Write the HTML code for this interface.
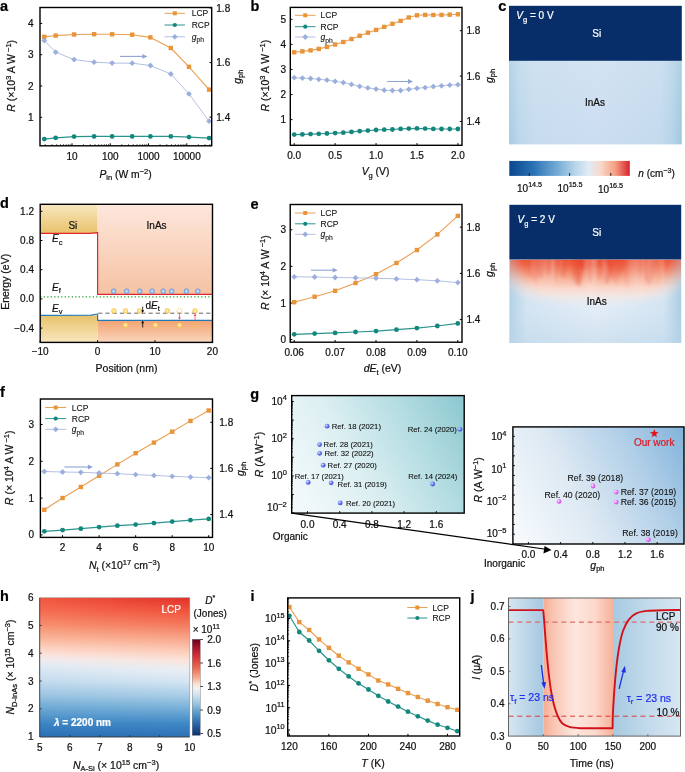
<!DOCTYPE html>
<html><head><meta charset="utf-8"><style>
html,body{margin:0;padding:0;background:#fff;}
svg{display:block;font-family:"Liberation Sans", sans-serif;will-change:transform;}
</style></head><body>
<svg width="685" height="772" viewBox="0 0 685 772">
<defs>
<linearGradient id="orgBg" gradientUnits="userSpaceOnUse" x1="292" y1="490" x2="464" y2="396">
 <stop offset="0" stop-color="#f3f9fa"/><stop offset="0.35" stop-color="#dcefF2"/><stop offset="0.7" stop-color="#b2dce1"/><stop offset="1" stop-color="#8cc7cf"/>
</linearGradient>
<linearGradient id="inoBg" gradientUnits="userSpaceOnUse" x1="513" y1="520" x2="684" y2="427">
 <stop offset="0" stop-color="#f5f9fc"/><stop offset="0.35" stop-color="#dde9f3"/><stop offset="0.7" stop-color="#b1cfe8"/><stop offset="1" stop-color="#82b3db"/>
</linearGradient>
<radialGradient id="bBall" cx="0.35" cy="0.35" r="0.7"><stop offset="0" stop-color="#dfe4ff"/><stop offset="0.45" stop-color="#7685f2"/><stop offset="1" stop-color="#3446d8"/></radialGradient>
<radialGradient id="mBall" cx="0.35" cy="0.35" r="0.7"><stop offset="0" stop-color="#fbe0ff"/><stop offset="0.45" stop-color="#e88af5"/><stop offset="1" stop-color="#c640e0"/></radialGradient>

<linearGradient id="hmapL" x1="0" y1="0" x2="0" y2="1">
 <stop offset="0" stop-color="#f2563e"/><stop offset="0.1" stop-color="#f56e54"/><stop offset="0.197" stop-color="#f7906f"/>
 <stop offset="0.295" stop-color="#fab79c"/><stop offset="0.36" stop-color="#fcd2c1"/><stop offset="0.399" stop-color="#fde0d6"/>
 <stop offset="0.445" stop-color="#f1ecf0"/><stop offset="0.49" stop-color="#e1ebf5"/><stop offset="0.6" stop-color="#c3dbee"/>
 <stop offset="0.7" stop-color="#9cc5e3"/><stop offset="0.8" stop-color="#6aa6d3"/><stop offset="0.905" stop-color="#3d85c4"/><stop offset="1" stop-color="#2a6fb5"/>
</linearGradient>
<linearGradient id="hmapR" x1="0" y1="0" x2="0" y2="1">
 <stop offset="0" stop-color="#e2302a"/><stop offset="0.1" stop-color="#f0553d"/><stop offset="0.197" stop-color="#f47a5e"/>
 <stop offset="0.295" stop-color="#f8a78b"/><stop offset="0.386" stop-color="#fcccb9"/><stop offset="0.451" stop-color="#fbe4da"/>
 <stop offset="0.516" stop-color="#eaeef4"/><stop offset="0.6" stop-color="#d5e5f2"/><stop offset="0.7" stop-color="#a9cde6"/>
 <stop offset="0.8" stop-color="#74aed7"/><stop offset="0.905" stop-color="#3f87c5"/><stop offset="1" stop-color="#2d71b5"/>
</linearGradient>
<linearGradient id="hmapMG" x1="0" y1="0" x2="1" y2="0"><stop offset="0" stop-color="#fff" stop-opacity="0"/><stop offset="1" stop-color="#fff" stop-opacity="1"/></linearGradient>
<mask id="hmapM" maskUnits="userSpaceOnUse" x="39" y="597" width="152" height="141"><rect x="39.7" y="597.7" width="150" height="139.3" fill="url(#hmapMG)"/></mask>
<linearGradient id="cbar_h" x1="0" y1="0" x2="0" y2="1">
 <stop offset="0" stop-color="#67001f"/><stop offset="0.08" stop-color="#a5132a"/><stop offset="0.18" stop-color="#d6303a"/>
 <stop offset="0.3" stop-color="#ec6a50"/><stop offset="0.4" stop-color="#f7ad90"/><stop offset="0.47" stop-color="#fbe3d8"/>
 <stop offset="0.51" stop-color="#f2f2f4"/><stop offset="0.57" stop-color="#d4e6f1"/><stop offset="0.67" stop-color="#98c6e0"/>
 <stop offset="0.77" stop-color="#5499cb"/><stop offset="0.88" stop-color="#2a67ab"/><stop offset="1" stop-color="#0b3272"/>
</linearGradient>

<linearGradient id="jB1" x1="0" y1="0" x2="1" y2="0"><stop offset="0" stop-color="#d6e6f2"/><stop offset="1" stop-color="#a6c8e0"/></linearGradient>
<linearGradient id="jS" x1="0" y1="0" x2="1" y2="0"><stop offset="0" stop-color="#f6ad94"/><stop offset="0.15" stop-color="#f9c6b4"/><stop offset="0.45" stop-color="#fde6de"/><stop offset="0.75" stop-color="#fcd8cb"/><stop offset="1" stop-color="#f6b199"/></linearGradient>
<linearGradient id="jB2" x1="0" y1="0" x2="1" y2="0"><stop offset="0" stop-color="#a7c9e0"/><stop offset="0.5" stop-color="#c2daeb"/><stop offset="1" stop-color="#d7e6f2"/></linearGradient>

<linearGradient id="inas0" x1="0" y1="0" x2="1" y2="0">
 <stop offset="0" stop-color="#a8cce3"/><stop offset="0.06" stop-color="#bcd7eb"/><stop offset="0.15" stop-color="#c6dcee"/>
 <stop offset="0.5" stop-color="#cbdef0"/><stop offset="0.88" stop-color="#c3daed"/><stop offset="0.95" stop-color="#b3d3e7"/><stop offset="1" stop-color="#9fc8e0"/>
</linearGradient>
<linearGradient id="inas0v" x1="0" y1="0" x2="0" y2="1">
 <stop offset="0" stop-color="#ffffff" stop-opacity="0.15"/><stop offset="1" stop-color="#ffffff" stop-opacity="0"/>
</linearGradient>
<linearGradient id="inas2" x1="0" y1="0" x2="1" y2="0">
 <stop offset="0" stop-color="#b3d1e7"/><stop offset="0.1" stop-color="#d3e4f2"/>
 <stop offset="0.5" stop-color="#e3edf6"/><stop offset="0.9" stop-color="#d3e4f2"/><stop offset="1" stop-color="#aacde3"/>
</linearGradient>
<linearGradient id="inas2v" x1="0" y1="0" x2="0" y2="1">
 <stop offset="0" stop-color="#c0d8ea" stop-opacity="0"/><stop offset="0.6" stop-color="#c0d8ea" stop-opacity="0"/><stop offset="1" stop-color="#bcd6ea" stop-opacity="0.5"/>
</linearGradient>
<linearGradient id="redband" x1="0" y1="0" x2="0" y2="1">
 <stop offset="0" stop-color="#ec5539"/><stop offset="0.12" stop-color="#ef6749"/><stop offset="0.26" stop-color="#f38c6f"/>
 <stop offset="0.4" stop-color="#f7b29a"/><stop offset="0.55" stop-color="#fad2c3"/><stop offset="0.72" stop-color="#f8e4de" stop-opacity="0.8"/><stop offset="1" stop-color="#eef0f5" stop-opacity="0"/>
</linearGradient>
<radialGradient id="bandMaskG" gradientUnits="userSpaceOnUse" cx="595.3" cy="256" r="1" gradientTransform="translate(595.3 256) scale(102 66) translate(-595.3 -256)">
 <stop offset="0" stop-color="#fff"/><stop offset="0.72" stop-color="#fff"/><stop offset="0.86" stop-color="#fff" stop-opacity="0.55"/><stop offset="1" stop-color="#fff" stop-opacity="0"/>
</radialGradient>
<mask id="bandMask" maskUnits="userSpaceOnUse" x="509" y="259" width="173" height="60"><rect x="509.4" y="259.4" width="171.8" height="58" fill="url(#bandMaskG)"/></mask>
<clipPath id="clip2"><rect x="509.4" y="259.4" width="171.8" height="83.6"/></clipPath>
<linearGradient id="cbar_c" x1="0" y1="0" x2="1" y2="0">
 <stop offset="0" stop-color="#0b468d"/><stop offset="0.2" stop-color="#2a72b4"/><stop offset="0.4" stop-color="#75acd5"/>
 <stop offset="0.55" stop-color="#b9d6ea"/><stop offset="0.66" stop-color="#e1ecf5"/><stop offset="0.76" stop-color="#f8d8c8"/>
 <stop offset="0.88" stop-color="#f49e82"/><stop offset="1" stop-color="#d7232a"/>
</linearGradient>
<filter id="blur15" x="-20%" y="-20%" width="140%" height="140%"><feGaussianBlur stdDeviation="1.6"/></filter>
<linearGradient id="siTop" x1="0" y1="0" x2="0" y2="1"><stop offset="0" stop-color="#f8e7bf"/><stop offset="1" stop-color="#e8c26a"/></linearGradient>
<linearGradient id="siBot" x1="0" y1="0" x2="0" y2="1"><stop offset="0" stop-color="#e8c26a"/><stop offset="1" stop-color="#f8e7bf"/></linearGradient>
<linearGradient id="inTop" x1="0" y1="0" x2="0" y2="1"><stop offset="0" stop-color="#fde7dc"/><stop offset="1" stop-color="#f6c2a3"/></linearGradient>
<linearGradient id="inBot" x1="0" y1="0" x2="0" y2="1"><stop offset="0" stop-color="#f2a36f"/><stop offset="1" stop-color="#fad6bf"/></linearGradient>
<radialGradient id="eBall"><stop offset="0" stop-color="#d8e6f6"/><stop offset="0.5" stop-color="#a9c6ea"/><stop offset="1" stop-color="#5f93d6"/></radialGradient>
<radialGradient id="hBall"><stop offset="0" stop-color="#fff6d8"/><stop offset="0.5" stop-color="#fde08a"/><stop offset="1" stop-color="#f8c440"/></radialGradient>
</defs>
<text x="250.20" y="398.60" font-size="14.5" text-anchor="start" fill="#000" font-weight="bold" font-style="normal"  stroke="#000" stroke-width="0.22">g</text>
<rect x="291.70" y="395.60" width="172.50" height="117.50" fill="url(#orgBg)" stroke="none" stroke-width="1" />
<line x1="291.70" y1="513.10" x2="293.90" y2="513.10" stroke="#000" stroke-width="0.9" />
<line x1="291.70" y1="507.50" x2="293.00" y2="507.50" stroke="#000" stroke-width="0.6" />
<line x1="291.70" y1="504.23" x2="293.00" y2="504.23" stroke="#000" stroke-width="0.6" />
<line x1="291.70" y1="501.90" x2="293.00" y2="501.90" stroke="#000" stroke-width="0.6" />
<line x1="291.70" y1="500.10" x2="293.00" y2="500.10" stroke="#000" stroke-width="0.6" />
<line x1="291.70" y1="498.63" x2="293.00" y2="498.63" stroke="#000" stroke-width="0.6" />
<line x1="291.70" y1="497.38" x2="293.00" y2="497.38" stroke="#000" stroke-width="0.6" />
<line x1="291.70" y1="496.30" x2="293.00" y2="496.30" stroke="#000" stroke-width="0.6" />
<line x1="291.70" y1="495.35" x2="293.00" y2="495.35" stroke="#000" stroke-width="0.6" />
<line x1="291.70" y1="494.50" x2="293.90" y2="494.50" stroke="#000" stroke-width="0.9" />
<line x1="291.70" y1="488.90" x2="293.00" y2="488.90" stroke="#000" stroke-width="0.6" />
<line x1="291.70" y1="485.63" x2="293.00" y2="485.63" stroke="#000" stroke-width="0.6" />
<line x1="291.70" y1="483.30" x2="293.00" y2="483.30" stroke="#000" stroke-width="0.6" />
<line x1="291.70" y1="481.50" x2="293.00" y2="481.50" stroke="#000" stroke-width="0.6" />
<line x1="291.70" y1="480.03" x2="293.00" y2="480.03" stroke="#000" stroke-width="0.6" />
<line x1="291.70" y1="478.78" x2="293.00" y2="478.78" stroke="#000" stroke-width="0.6" />
<line x1="291.70" y1="477.70" x2="293.00" y2="477.70" stroke="#000" stroke-width="0.6" />
<line x1="291.70" y1="476.75" x2="293.00" y2="476.75" stroke="#000" stroke-width="0.6" />
<line x1="291.70" y1="475.90" x2="293.90" y2="475.90" stroke="#000" stroke-width="0.9" />
<line x1="291.70" y1="470.30" x2="293.00" y2="470.30" stroke="#000" stroke-width="0.6" />
<line x1="291.70" y1="467.03" x2="293.00" y2="467.03" stroke="#000" stroke-width="0.6" />
<line x1="291.70" y1="464.70" x2="293.00" y2="464.70" stroke="#000" stroke-width="0.6" />
<line x1="291.70" y1="462.90" x2="293.00" y2="462.90" stroke="#000" stroke-width="0.6" />
<line x1="291.70" y1="461.43" x2="293.00" y2="461.43" stroke="#000" stroke-width="0.6" />
<line x1="291.70" y1="460.18" x2="293.00" y2="460.18" stroke="#000" stroke-width="0.6" />
<line x1="291.70" y1="459.10" x2="293.00" y2="459.10" stroke="#000" stroke-width="0.6" />
<line x1="291.70" y1="458.15" x2="293.00" y2="458.15" stroke="#000" stroke-width="0.6" />
<line x1="291.70" y1="457.30" x2="293.90" y2="457.30" stroke="#000" stroke-width="0.9" />
<line x1="291.70" y1="451.70" x2="293.00" y2="451.70" stroke="#000" stroke-width="0.6" />
<line x1="291.70" y1="448.43" x2="293.00" y2="448.43" stroke="#000" stroke-width="0.6" />
<line x1="291.70" y1="446.10" x2="293.00" y2="446.10" stroke="#000" stroke-width="0.6" />
<line x1="291.70" y1="444.30" x2="293.00" y2="444.30" stroke="#000" stroke-width="0.6" />
<line x1="291.70" y1="442.83" x2="293.00" y2="442.83" stroke="#000" stroke-width="0.6" />
<line x1="291.70" y1="441.58" x2="293.00" y2="441.58" stroke="#000" stroke-width="0.6" />
<line x1="291.70" y1="440.50" x2="293.00" y2="440.50" stroke="#000" stroke-width="0.6" />
<line x1="291.70" y1="439.55" x2="293.00" y2="439.55" stroke="#000" stroke-width="0.6" />
<line x1="291.70" y1="438.70" x2="293.90" y2="438.70" stroke="#000" stroke-width="0.9" />
<line x1="291.70" y1="433.10" x2="293.00" y2="433.10" stroke="#000" stroke-width="0.6" />
<line x1="291.70" y1="429.83" x2="293.00" y2="429.83" stroke="#000" stroke-width="0.6" />
<line x1="291.70" y1="427.50" x2="293.00" y2="427.50" stroke="#000" stroke-width="0.6" />
<line x1="291.70" y1="425.70" x2="293.00" y2="425.70" stroke="#000" stroke-width="0.6" />
<line x1="291.70" y1="424.23" x2="293.00" y2="424.23" stroke="#000" stroke-width="0.6" />
<line x1="291.70" y1="422.98" x2="293.00" y2="422.98" stroke="#000" stroke-width="0.6" />
<line x1="291.70" y1="421.90" x2="293.00" y2="421.90" stroke="#000" stroke-width="0.6" />
<line x1="291.70" y1="420.95" x2="293.00" y2="420.95" stroke="#000" stroke-width="0.6" />
<line x1="291.70" y1="420.10" x2="293.90" y2="420.10" stroke="#000" stroke-width="0.9" />
<line x1="291.70" y1="414.50" x2="293.00" y2="414.50" stroke="#000" stroke-width="0.6" />
<line x1="291.70" y1="411.23" x2="293.00" y2="411.23" stroke="#000" stroke-width="0.6" />
<line x1="291.70" y1="408.90" x2="293.00" y2="408.90" stroke="#000" stroke-width="0.6" />
<line x1="291.70" y1="407.10" x2="293.00" y2="407.10" stroke="#000" stroke-width="0.6" />
<line x1="291.70" y1="405.63" x2="293.00" y2="405.63" stroke="#000" stroke-width="0.6" />
<line x1="291.70" y1="404.38" x2="293.00" y2="404.38" stroke="#000" stroke-width="0.6" />
<line x1="291.70" y1="403.30" x2="293.00" y2="403.30" stroke="#000" stroke-width="0.6" />
<line x1="291.70" y1="402.35" x2="293.00" y2="402.35" stroke="#000" stroke-width="0.6" />
<line x1="291.70" y1="401.50" x2="293.90" y2="401.50" stroke="#000" stroke-width="0.9" />
<line x1="307.50" y1="513.10" x2="307.50" y2="511.10" stroke="#000" stroke-width="0.9" />
<text x="307.50" y="528.18" font-size="10" text-anchor="middle" fill="#111" font-weight="normal" font-style="normal"  stroke="#111" stroke-width="0.22">0.0</text>
<line x1="339.70" y1="513.10" x2="339.70" y2="511.10" stroke="#000" stroke-width="0.9" />
<text x="339.70" y="528.18" font-size="10" text-anchor="middle" fill="#111" font-weight="normal" font-style="normal"  stroke="#111" stroke-width="0.22">0.4</text>
<line x1="371.90" y1="513.10" x2="371.90" y2="511.10" stroke="#000" stroke-width="0.9" />
<text x="371.90" y="528.18" font-size="10" text-anchor="middle" fill="#111" font-weight="normal" font-style="normal"  stroke="#111" stroke-width="0.22">0.8</text>
<line x1="404.10" y1="513.10" x2="404.10" y2="511.10" stroke="#000" stroke-width="0.9" />
<text x="404.10" y="528.18" font-size="10" text-anchor="middle" fill="#111" font-weight="normal" font-style="normal"  stroke="#111" stroke-width="0.22">1.2</text>
<line x1="436.30" y1="513.10" x2="436.30" y2="511.10" stroke="#000" stroke-width="0.9" />
<text x="436.30" y="528.18" font-size="10" text-anchor="middle" fill="#111" font-weight="normal" font-style="normal"  stroke="#111" stroke-width="0.22">1.6</text>
<text x="286.80" y="404.90" font-size="10" text-anchor="end" fill="#111" font-weight="normal" font-style="normal"  stroke="#111" stroke-width="0.22">10<tspan font-size="7.5" dy="-4.6">4</tspan></text>
<text x="286.80" y="442.10" font-size="10" text-anchor="end" fill="#111" font-weight="normal" font-style="normal"  stroke="#111" stroke-width="0.22">10<tspan font-size="7.5" dy="-4.6">2</tspan></text>
<text x="286.80" y="479.30" font-size="10" text-anchor="end" fill="#111" font-weight="normal" font-style="normal"  stroke="#111" stroke-width="0.22">10<tspan font-size="7.5" dy="-4.6">0</tspan></text>
<text x="286.80" y="511.40" font-size="10" text-anchor="end" fill="#111" font-weight="normal" font-style="normal"  stroke="#111" stroke-width="0.22">10<tspan font-size="7.5" dy="-4.6">−2</tspan></text>
<circle cx="327.10" cy="426.20" r="2.4" fill="url(#bBall)" />
<text x="331.80" y="428.96" font-size="7.7" text-anchor="start" fill="#111" font-weight="normal" font-style="normal"  stroke="#111" stroke-width="0.1">Ref. 18 (2021)</text>
<circle cx="319.60" cy="444.60" r="2.4" fill="url(#bBall)" />
<text x="323.60" y="447.36" font-size="7.7" text-anchor="start" fill="#111" font-weight="normal" font-style="normal"  stroke="#111" stroke-width="0.1">Ref. 28 (2021)</text>
<circle cx="319.60" cy="453.30" r="2.4" fill="url(#bBall)" />
<text x="324.50" y="456.06" font-size="7.7" text-anchor="start" fill="#111" font-weight="normal" font-style="normal"  stroke="#111" stroke-width="0.1">Ref. 32 (2022)</text>
<circle cx="323.20" cy="465.20" r="2.4" fill="url(#bBall)" />
<text x="327.60" y="467.96" font-size="7.7" text-anchor="start" fill="#111" font-weight="normal" font-style="normal"  stroke="#111" stroke-width="0.1">Ref. 27 (2020)</text>
<circle cx="308.20" cy="482.40" r="2.4" fill="url(#bBall)" />
<text x="294.70" y="479.06" font-size="7.7" text-anchor="start" fill="#111" font-weight="normal" font-style="normal"  stroke="#111" stroke-width="0.1">Ref. 17 (2021)</text>
<circle cx="331.10" cy="482.80" r="2.4" fill="url(#bBall)" />
<text x="337.60" y="486.76" font-size="7.7" text-anchor="start" fill="#111" font-weight="normal" font-style="normal"  stroke="#111" stroke-width="0.1">Ref. 31 (2019)</text>
<circle cx="340.20" cy="502.90" r="2.4" fill="url(#bBall)" />
<text x="346.00" y="506.06" font-size="7.7" text-anchor="start" fill="#111" font-weight="normal" font-style="normal"  stroke="#111" stroke-width="0.1">Ref. 20 (2021)</text>
<circle cx="459.90" cy="429.30" r="2.4" fill="url(#bBall)" />
<text x="456.90" y="432.06" font-size="7.7" text-anchor="end" fill="#111" font-weight="normal" font-style="normal"  stroke="#111" stroke-width="0.1">Ref. 24 (2020)</text>
<circle cx="432.70" cy="484.00" r="2.4" fill="url(#bBall)" />
<text x="408.20" y="478.86" font-size="7.7" text-anchor="start" fill="#111" font-weight="normal" font-style="normal"  stroke="#111" stroke-width="0.1">Ref. 14 (2024)</text>
<rect x="291.70" y="395.60" width="172.50" height="117.50" fill="none" stroke="#000" stroke-width="1.4" />
<text x="0" y="0" transform="translate(262.5,454.5) rotate(-90)" font-size="10.5" text-anchor="middle" fill="#111" stroke="#111" stroke-width="0.22"><tspan font-style="italic">R</tspan> (A W<tspan font-size="7.5" dy="-4">−1</tspan><tspan dy="4">)</tspan></text>
<text x="272.80" y="539.80" font-size="10" text-anchor="start" fill="#111" font-weight="normal" font-style="normal"  stroke="#111" stroke-width="0.22">Organic</text>
<rect x="512.90" y="426.90" width="171.10" height="117.10" fill="url(#inoBg)" stroke="none" stroke-width="1" />
<line x1="512.90" y1="436.30" x2="514.90" y2="436.30" stroke="#000" stroke-width="0.9" />
<line x1="512.90" y1="446.09" x2="514.90" y2="446.09" stroke="#000" stroke-width="0.9" />
<line x1="512.90" y1="455.88" x2="514.90" y2="455.88" stroke="#000" stroke-width="0.9" />
<line x1="512.90" y1="465.67" x2="514.90" y2="465.67" stroke="#000" stroke-width="0.9" />
<line x1="512.90" y1="475.46" x2="514.90" y2="475.46" stroke="#000" stroke-width="0.9" />
<line x1="512.90" y1="485.25" x2="514.90" y2="485.25" stroke="#000" stroke-width="0.9" />
<line x1="512.90" y1="495.04" x2="514.90" y2="495.04" stroke="#000" stroke-width="0.9" />
<line x1="512.90" y1="504.83" x2="514.90" y2="504.83" stroke="#000" stroke-width="0.9" />
<line x1="512.90" y1="514.62" x2="514.90" y2="514.62" stroke="#000" stroke-width="0.9" />
<line x1="512.90" y1="524.41" x2="514.90" y2="524.41" stroke="#000" stroke-width="0.9" />
<line x1="512.90" y1="534.20" x2="514.90" y2="534.20" stroke="#000" stroke-width="0.9" />
<line x1="528.40" y1="544.00" x2="528.40" y2="542.00" stroke="#000" stroke-width="0.9" />
<text x="528.40" y="558.38" font-size="10" text-anchor="middle" fill="#111" font-weight="normal" font-style="normal"  stroke="#111" stroke-width="0.22">0.0</text>
<line x1="560.60" y1="544.00" x2="560.60" y2="542.00" stroke="#000" stroke-width="0.9" />
<text x="560.60" y="558.38" font-size="10" text-anchor="middle" fill="#111" font-weight="normal" font-style="normal"  stroke="#111" stroke-width="0.22">0.4</text>
<line x1="592.80" y1="544.00" x2="592.80" y2="542.00" stroke="#000" stroke-width="0.9" />
<text x="592.80" y="558.38" font-size="10" text-anchor="middle" fill="#111" font-weight="normal" font-style="normal"  stroke="#111" stroke-width="0.22">0.8</text>
<line x1="625.00" y1="544.00" x2="625.00" y2="542.00" stroke="#000" stroke-width="0.9" />
<text x="625.00" y="558.38" font-size="10" text-anchor="middle" fill="#111" font-weight="normal" font-style="normal"  stroke="#111" stroke-width="0.22">1.2</text>
<line x1="657.20" y1="544.00" x2="657.20" y2="542.00" stroke="#000" stroke-width="0.9" />
<text x="657.20" y="558.38" font-size="10" text-anchor="middle" fill="#111" font-weight="normal" font-style="normal"  stroke="#111" stroke-width="0.22">1.6</text>
<text x="506.50" y="440.40" font-size="10" text-anchor="end" fill="#111" font-weight="normal" font-style="normal"  stroke="#111" stroke-width="0.22">10<tspan font-size="7.5" dy="-4.6">4</tspan></text>
<text x="506.50" y="472.67" font-size="10" text-anchor="end" fill="#111" font-weight="normal" font-style="normal"  stroke="#111" stroke-width="0.22">10<tspan font-size="7.5" dy="-4.6">1</tspan></text>
<text x="506.50" y="504.94" font-size="10" text-anchor="end" fill="#111" font-weight="normal" font-style="normal"  stroke="#111" stroke-width="0.22">10<tspan font-size="7.5" dy="-4.6">−2</tspan></text>
<text x="506.50" y="537.21" font-size="10" text-anchor="end" fill="#111" font-weight="normal" font-style="normal"  stroke="#111" stroke-width="0.22">10<tspan font-size="7.5" dy="-4.6">−5</tspan></text>
<rect x="512.90" y="426.90" width="171.10" height="117.10" fill="none" stroke="#000" stroke-width="1.4" />
<circle cx="559.00" cy="501.40" r="2.4" fill="url(#mBall)" />
<text x="544.60" y="497.81" font-size="8.7" text-anchor="start" fill="#111" font-weight="normal" font-style="normal"  stroke="#111" stroke-width="0.1">Ref. 40 (2020)</text>
<circle cx="593.00" cy="486.00" r="2.4" fill="url(#mBall)" />
<text x="567.60" y="481.11" font-size="8.7" text-anchor="start" fill="#111" font-weight="normal" font-style="normal"  stroke="#111" stroke-width="0.1">Ref. 39 (2018)</text>
<circle cx="616.20" cy="492.10" r="2.4" fill="url(#mBall)" />
<text x="620.70" y="494.71" font-size="8.7" text-anchor="start" fill="#111" font-weight="normal" font-style="normal"  stroke="#111" stroke-width="0.1">Ref. 37 (2019)</text>
<circle cx="616.20" cy="502.10" r="2.4" fill="url(#mBall)" />
<text x="620.70" y="504.81" font-size="8.7" text-anchor="start" fill="#111" font-weight="normal" font-style="normal"  stroke="#111" stroke-width="0.1">Ref. 36 (2015)</text>
<circle cx="648.30" cy="539.70" r="2.4" fill="url(#mBall)" />
<text x="622.30" y="535.51" font-size="8.7" text-anchor="start" fill="#111" font-weight="normal" font-style="normal"  stroke="#111" stroke-width="0.1">Ref. 38 (2019)</text>
<polygon points="654.30,429.00 655.39,432.10 658.67,432.18 656.06,434.17 657.00,437.32 654.30,435.45 651.60,437.32 652.54,434.17 649.93,432.18 653.21,432.10" fill="#e0141e"/>
<text x="633.90" y="446.08" font-size="10" text-anchor="start" fill="#dd1c24" font-weight="normal" font-style="normal"  stroke="#dd1c24" stroke-width="0.22">Our work</text>
<text x="0" y="0" transform="translate(481.5,479.8) rotate(-90)" font-size="10.5" text-anchor="middle" fill="#111" stroke="#111" stroke-width="0.22"><tspan font-style="italic">R</tspan> (A W<tspan font-size="7.5" dy="-4">−1</tspan><tspan dy="4">)</tspan></text>
<text x="484.00" y="567.40" font-size="10" text-anchor="start" fill="#111" font-weight="normal" font-style="normal"  stroke="#111" stroke-width="0.22">Inorganic</text>
<text x="597.40" y="568.50" font-size="10.5" text-anchor="middle" fill="#111" font-weight="normal" font-style="normal"  stroke="#111" stroke-width="0.22"><tspan font-style="italic">g</tspan><tspan font-size="7.5" dy="2">ph</tspan></text>
<line x1="291.70" y1="513.20" x2="547.50" y2="549.50" stroke="#000" stroke-width="1.2" />
<polygon points="551.5,550.1 544.6,546.0 543.4,553.6" fill="#000"/>
<text x="0.00" y="600.60" font-size="14.5" text-anchor="start" fill="#000" font-weight="bold" font-style="normal"  stroke="#000" stroke-width="0.22">h</text>
<rect x="39.70" y="597.70" width="150.00" height="139.30" fill="url(#hmapL)" stroke="none" stroke-width="1" />
<rect x="39.70" y="597.70" width="150.00" height="139.30" fill="url(#hmapR)" stroke="none" stroke-width="1" mask="url(#hmapM)"/>
<polyline points="39.7,597.7 39.7,737.0 189.7,737.0" fill="none" stroke="#333" stroke-width="0.9"/>
<polyline points="39.7,597.7 189.7,597.7 189.7,737.0" fill="none" stroke="#888" stroke-width="0.5"/>
<text x="33.50" y="740.18" font-size="10" text-anchor="end" fill="#111" font-weight="normal" font-style="normal"  stroke="#111" stroke-width="0.22">1</text>
<line x1="39.70" y1="708.80" x2="41.70" y2="708.80" stroke="#333" stroke-width="0.9" />
<text x="33.50" y="712.38" font-size="10" text-anchor="end" fill="#111" font-weight="normal" font-style="normal"  stroke="#111" stroke-width="0.22">2</text>
<line x1="39.70" y1="681.00" x2="41.70" y2="681.00" stroke="#333" stroke-width="0.9" />
<text x="33.50" y="684.58" font-size="10" text-anchor="end" fill="#111" font-weight="normal" font-style="normal"  stroke="#111" stroke-width="0.22">3</text>
<line x1="39.70" y1="653.20" x2="41.70" y2="653.20" stroke="#333" stroke-width="0.9" />
<text x="33.50" y="656.78" font-size="10" text-anchor="end" fill="#111" font-weight="normal" font-style="normal"  stroke="#111" stroke-width="0.22">4</text>
<line x1="39.70" y1="625.40" x2="41.70" y2="625.40" stroke="#333" stroke-width="0.9" />
<text x="33.50" y="628.98" font-size="10" text-anchor="end" fill="#111" font-weight="normal" font-style="normal"  stroke="#111" stroke-width="0.22">5</text>
<text x="33.50" y="601.18" font-size="10" text-anchor="end" fill="#111" font-weight="normal" font-style="normal"  stroke="#111" stroke-width="0.22">6</text>
<text x="39.90" y="751.38" font-size="10" text-anchor="middle" fill="#111" font-weight="normal" font-style="normal"  stroke="#111" stroke-width="0.22">5</text>
<line x1="69.86" y1="737.00" x2="69.86" y2="735.00" stroke="#333" stroke-width="0.9" />
<text x="69.86" y="751.38" font-size="10" text-anchor="middle" fill="#111" font-weight="normal" font-style="normal"  stroke="#111" stroke-width="0.22">6</text>
<line x1="99.82" y1="737.00" x2="99.82" y2="735.00" stroke="#333" stroke-width="0.9" />
<text x="99.82" y="751.38" font-size="10" text-anchor="middle" fill="#111" font-weight="normal" font-style="normal"  stroke="#111" stroke-width="0.22">7</text>
<line x1="129.78" y1="737.00" x2="129.78" y2="735.00" stroke="#333" stroke-width="0.9" />
<text x="129.78" y="751.38" font-size="10" text-anchor="middle" fill="#111" font-weight="normal" font-style="normal"  stroke="#111" stroke-width="0.22">8</text>
<line x1="159.74" y1="737.00" x2="159.74" y2="735.00" stroke="#333" stroke-width="0.9" />
<text x="159.74" y="751.38" font-size="10" text-anchor="middle" fill="#111" font-weight="normal" font-style="normal"  stroke="#111" stroke-width="0.22">9</text>
<text x="189.70" y="751.38" font-size="10" text-anchor="middle" fill="#111" font-weight="normal" font-style="normal"  stroke="#111" stroke-width="0.22">10</text>
<text x="54.00" y="725.80" font-size="10" text-anchor="start" fill="#ffffff" font-weight="bold" font-style="normal"  stroke="#ffffff" stroke-width="0.22"><tspan font-style="italic">λ</tspan> = 2200 nm</text>
<text x="171.30" y="612.58" font-size="10" text-anchor="middle" fill="#ffffff" font-weight="normal" font-style="normal"  stroke="#ffffff" stroke-width="0.22">LCP</text>
<rect x="192.20" y="639.30" width="8.00" height="96.00" fill="url(#cbar_h)" stroke="none" stroke-width="1" />
<rect x="192.2" y="639.3" width="8" height="96" fill="none" stroke="#666" stroke-width="0.4"/>
<line x1="200.20" y1="639.50" x2="203.00" y2="639.50" stroke="#222" stroke-width="0.8" />
<text x="207.20" y="643.08" font-size="10" text-anchor="start" fill="#111" font-weight="normal" font-style="normal"  stroke="#111" stroke-width="0.22">2.0</text>
<line x1="200.20" y1="663.00" x2="203.00" y2="663.00" stroke="#222" stroke-width="0.8" />
<text x="207.20" y="666.58" font-size="10" text-anchor="start" fill="#111" font-weight="normal" font-style="normal"  stroke="#111" stroke-width="0.22">1.6</text>
<line x1="200.20" y1="686.50" x2="203.00" y2="686.50" stroke="#222" stroke-width="0.8" />
<text x="207.20" y="690.08" font-size="10" text-anchor="start" fill="#111" font-weight="normal" font-style="normal"  stroke="#111" stroke-width="0.22">1.3</text>
<line x1="200.20" y1="710.00" x2="203.00" y2="710.00" stroke="#222" stroke-width="0.8" />
<text x="207.20" y="713.58" font-size="10" text-anchor="start" fill="#111" font-weight="normal" font-style="normal"  stroke="#111" stroke-width="0.22">0.9</text>
<line x1="200.20" y1="733.50" x2="203.00" y2="733.50" stroke="#222" stroke-width="0.8" />
<text x="207.20" y="737.08" font-size="10" text-anchor="start" fill="#111" font-weight="normal" font-style="normal"  stroke="#111" stroke-width="0.22">0.5</text>
<text x="210.20" y="604.30" font-size="10" text-anchor="middle" fill="#111" font-weight="normal" font-style="normal"  stroke="#111" stroke-width="0.22"><tspan font-style="italic">D</tspan><tspan font-size="7" dy="-4">*</tspan></text>
<text x="210.20" y="616.58" font-size="10" text-anchor="middle" fill="#111" font-weight="normal" font-style="normal"  stroke="#111" stroke-width="0.22">(Jones)</text>
<text x="192.70" y="632.90" font-size="10" text-anchor="start" fill="#111" font-weight="normal" font-style="normal"  stroke="#111" stroke-width="0.22">× 10<tspan font-size="7.2" dy="-4.4">11</tspan></text>
<text x="0" y="0" transform="translate(14.2,667) rotate(-90)" font-size="10.5" text-anchor="middle" fill="#111" stroke="#111" stroke-width="0.22"><tspan font-style="italic">N</tspan><tspan font-size="7.5" dy="2.5">D-InAs</tspan><tspan dy="-2.5"> (× 10</tspan><tspan font-size="7.5" dy="-4">15</tspan><tspan dy="4"> cm</tspan><tspan font-size="7.5" dy="-4">−3</tspan><tspan dy="4">)</tspan></text>
<text x="116.00" y="768.50" font-size="10.5" text-anchor="middle" fill="#111" font-weight="normal" font-style="normal"  stroke="#111" stroke-width="0.22"><tspan font-style="italic">N</tspan><tspan font-size="7.5" dy="2.5">A-Si</tspan><tspan dy="-2.5"> (× 10</tspan><tspan font-size="7.5" dy="-4">15</tspan><tspan dy="4"> cm</tspan><tspan font-size="7.5" dy="-4">−3</tspan><tspan dy="4">)</tspan></text>
<text x="250.50" y="601.00" font-size="14.5" text-anchor="start" fill="#000" font-weight="bold" font-style="normal"  stroke="#000" stroke-width="0.22">i</text>
<line x1="287.70" y1="734.95" x2="289.10" y2="734.95" stroke="#000" stroke-width="0.7" />
<line x1="287.70" y1="733.45" x2="289.10" y2="733.45" stroke="#000" stroke-width="0.7" />
<line x1="287.70" y1="732.16" x2="289.10" y2="732.16" stroke="#000" stroke-width="0.7" />
<line x1="287.70" y1="731.02" x2="289.10" y2="731.02" stroke="#000" stroke-width="0.7" />
<line x1="287.70" y1="730.00" x2="290.10" y2="730.00" stroke="#000" stroke-width="1" />
<line x1="287.70" y1="723.29" x2="289.10" y2="723.29" stroke="#000" stroke-width="0.7" />
<line x1="287.70" y1="719.36" x2="289.10" y2="719.36" stroke="#000" stroke-width="0.7" />
<line x1="287.70" y1="716.57" x2="289.10" y2="716.57" stroke="#000" stroke-width="0.7" />
<line x1="287.70" y1="714.41" x2="289.10" y2="714.41" stroke="#000" stroke-width="0.7" />
<line x1="287.70" y1="712.65" x2="289.10" y2="712.65" stroke="#000" stroke-width="0.7" />
<line x1="287.70" y1="711.15" x2="289.10" y2="711.15" stroke="#000" stroke-width="0.7" />
<line x1="287.70" y1="709.86" x2="289.10" y2="709.86" stroke="#000" stroke-width="0.7" />
<line x1="287.70" y1="708.72" x2="289.10" y2="708.72" stroke="#000" stroke-width="0.7" />
<line x1="287.70" y1="707.70" x2="290.10" y2="707.70" stroke="#000" stroke-width="1" />
<line x1="287.70" y1="700.99" x2="289.10" y2="700.99" stroke="#000" stroke-width="0.7" />
<line x1="287.70" y1="697.06" x2="289.10" y2="697.06" stroke="#000" stroke-width="0.7" />
<line x1="287.70" y1="694.27" x2="289.10" y2="694.27" stroke="#000" stroke-width="0.7" />
<line x1="287.70" y1="692.11" x2="289.10" y2="692.11" stroke="#000" stroke-width="0.7" />
<line x1="287.70" y1="690.35" x2="289.10" y2="690.35" stroke="#000" stroke-width="0.7" />
<line x1="287.70" y1="688.85" x2="289.10" y2="688.85" stroke="#000" stroke-width="0.7" />
<line x1="287.70" y1="687.56" x2="289.10" y2="687.56" stroke="#000" stroke-width="0.7" />
<line x1="287.70" y1="686.42" x2="289.10" y2="686.42" stroke="#000" stroke-width="0.7" />
<line x1="287.70" y1="685.40" x2="290.10" y2="685.40" stroke="#000" stroke-width="1" />
<line x1="287.70" y1="678.69" x2="289.10" y2="678.69" stroke="#000" stroke-width="0.7" />
<line x1="287.70" y1="674.76" x2="289.10" y2="674.76" stroke="#000" stroke-width="0.7" />
<line x1="287.70" y1="671.97" x2="289.10" y2="671.97" stroke="#000" stroke-width="0.7" />
<line x1="287.70" y1="669.81" x2="289.10" y2="669.81" stroke="#000" stroke-width="0.7" />
<line x1="287.70" y1="668.05" x2="289.10" y2="668.05" stroke="#000" stroke-width="0.7" />
<line x1="287.70" y1="666.55" x2="289.10" y2="666.55" stroke="#000" stroke-width="0.7" />
<line x1="287.70" y1="665.26" x2="289.10" y2="665.26" stroke="#000" stroke-width="0.7" />
<line x1="287.70" y1="664.12" x2="289.10" y2="664.12" stroke="#000" stroke-width="0.7" />
<line x1="287.70" y1="663.10" x2="290.10" y2="663.10" stroke="#000" stroke-width="1" />
<line x1="287.70" y1="656.39" x2="289.10" y2="656.39" stroke="#000" stroke-width="0.7" />
<line x1="287.70" y1="652.46" x2="289.10" y2="652.46" stroke="#000" stroke-width="0.7" />
<line x1="287.70" y1="649.67" x2="289.10" y2="649.67" stroke="#000" stroke-width="0.7" />
<line x1="287.70" y1="647.51" x2="289.10" y2="647.51" stroke="#000" stroke-width="0.7" />
<line x1="287.70" y1="645.75" x2="289.10" y2="645.75" stroke="#000" stroke-width="0.7" />
<line x1="287.70" y1="644.25" x2="289.10" y2="644.25" stroke="#000" stroke-width="0.7" />
<line x1="287.70" y1="642.96" x2="289.10" y2="642.96" stroke="#000" stroke-width="0.7" />
<line x1="287.70" y1="641.82" x2="289.10" y2="641.82" stroke="#000" stroke-width="0.7" />
<line x1="287.70" y1="640.80" x2="290.10" y2="640.80" stroke="#000" stroke-width="1" />
<line x1="287.70" y1="634.09" x2="289.10" y2="634.09" stroke="#000" stroke-width="0.7" />
<line x1="287.70" y1="630.16" x2="289.10" y2="630.16" stroke="#000" stroke-width="0.7" />
<line x1="287.70" y1="627.37" x2="289.10" y2="627.37" stroke="#000" stroke-width="0.7" />
<line x1="287.70" y1="625.21" x2="289.10" y2="625.21" stroke="#000" stroke-width="0.7" />
<line x1="287.70" y1="623.45" x2="289.10" y2="623.45" stroke="#000" stroke-width="0.7" />
<line x1="287.70" y1="621.95" x2="289.10" y2="621.95" stroke="#000" stroke-width="0.7" />
<line x1="287.70" y1="620.66" x2="289.10" y2="620.66" stroke="#000" stroke-width="0.7" />
<line x1="287.70" y1="619.52" x2="289.10" y2="619.52" stroke="#000" stroke-width="0.7" />
<line x1="287.70" y1="618.50" x2="290.10" y2="618.50" stroke="#000" stroke-width="1" />
<line x1="287.70" y1="611.79" x2="289.10" y2="611.79" stroke="#000" stroke-width="0.7" />
<line x1="287.70" y1="607.86" x2="289.10" y2="607.86" stroke="#000" stroke-width="0.7" />
<line x1="287.70" y1="605.07" x2="289.10" y2="605.07" stroke="#000" stroke-width="0.7" />
<line x1="287.70" y1="602.91" x2="289.10" y2="602.91" stroke="#000" stroke-width="0.7" />
<line x1="287.70" y1="601.15" x2="289.10" y2="601.15" stroke="#000" stroke-width="0.7" />
<line x1="287.70" y1="599.65" x2="289.10" y2="599.65" stroke="#000" stroke-width="0.7" />
<line x1="287.70" y1="598.36" x2="289.10" y2="598.36" stroke="#000" stroke-width="0.7" />
<text x="284.60" y="733.80" font-size="10.3" text-anchor="end" fill="#111" font-weight="normal" font-style="normal"  stroke="#111" stroke-width="0.22">10<tspan font-size="7.3" dy="-4.6">10</tspan></text>
<text x="284.60" y="711.50" font-size="10.3" text-anchor="end" fill="#111" font-weight="normal" font-style="normal"  stroke="#111" stroke-width="0.22">10<tspan font-size="7.3" dy="-4.6">11</tspan></text>
<text x="284.60" y="689.20" font-size="10.3" text-anchor="end" fill="#111" font-weight="normal" font-style="normal"  stroke="#111" stroke-width="0.22">10<tspan font-size="7.3" dy="-4.6">12</tspan></text>
<text x="284.60" y="666.90" font-size="10.3" text-anchor="end" fill="#111" font-weight="normal" font-style="normal"  stroke="#111" stroke-width="0.22">10<tspan font-size="7.3" dy="-4.6">13</tspan></text>
<text x="284.60" y="644.60" font-size="10.3" text-anchor="end" fill="#111" font-weight="normal" font-style="normal"  stroke="#111" stroke-width="0.22">10<tspan font-size="7.3" dy="-4.6">14</tspan></text>
<text x="284.60" y="622.30" font-size="10.3" text-anchor="end" fill="#111" font-weight="normal" font-style="normal"  stroke="#111" stroke-width="0.22">10<tspan font-size="7.3" dy="-4.6">15</tspan></text>
<line x1="289.40" y1="736.00" x2="289.40" y2="733.80" stroke="#000" stroke-width="1" />
<text x="289.40" y="749.98" font-size="10" text-anchor="middle" fill="#111" font-weight="normal" font-style="normal"  stroke="#111" stroke-width="0.22">120</text>
<line x1="328.92" y1="736.00" x2="328.92" y2="733.80" stroke="#000" stroke-width="1" />
<text x="328.92" y="749.98" font-size="10" text-anchor="middle" fill="#111" font-weight="normal" font-style="normal"  stroke="#111" stroke-width="0.22">160</text>
<line x1="368.44" y1="736.00" x2="368.44" y2="733.80" stroke="#000" stroke-width="1" />
<text x="368.44" y="749.98" font-size="10" text-anchor="middle" fill="#111" font-weight="normal" font-style="normal"  stroke="#111" stroke-width="0.22">200</text>
<line x1="407.96" y1="736.00" x2="407.96" y2="733.80" stroke="#000" stroke-width="1" />
<text x="407.96" y="749.98" font-size="10" text-anchor="middle" fill="#111" font-weight="normal" font-style="normal"  stroke="#111" stroke-width="0.22">240</text>
<line x1="447.48" y1="736.00" x2="447.48" y2="733.80" stroke="#000" stroke-width="1" />
<text x="447.48" y="749.98" font-size="10" text-anchor="middle" fill="#111" font-weight="normal" font-style="normal"  stroke="#111" stroke-width="0.22">280</text>
<polyline points="289.40,607.00 299.28,622.10 309.16,630.00 319.04,639.40 328.92,647.80 338.80,655.70 348.68,662.40 358.56,668.80 368.44,674.40 378.32,680.50 388.20,684.40 398.08,688.80 407.96,693.10 417.84,697.00 427.72,700.70 437.60,704.00 447.48,707.20 457.36,709.80" fill="none" stroke="#eb9f52" stroke-width="1.1" stroke-linejoin="round" />
<rect x="287.20" y="604.80" width="4.40" height="4.40" fill="#e8943a" stroke="none" stroke-width="1" />
<rect x="297.08" y="619.90" width="4.40" height="4.40" fill="#e8943a" stroke="none" stroke-width="1" />
<rect x="306.96" y="627.80" width="4.40" height="4.40" fill="#e8943a" stroke="none" stroke-width="1" />
<rect x="316.84" y="637.20" width="4.40" height="4.40" fill="#e8943a" stroke="none" stroke-width="1" />
<rect x="326.72" y="645.60" width="4.40" height="4.40" fill="#e8943a" stroke="none" stroke-width="1" />
<rect x="336.60" y="653.50" width="4.40" height="4.40" fill="#e8943a" stroke="none" stroke-width="1" />
<rect x="346.48" y="660.20" width="4.40" height="4.40" fill="#e8943a" stroke="none" stroke-width="1" />
<rect x="356.36" y="666.60" width="4.40" height="4.40" fill="#e8943a" stroke="none" stroke-width="1" />
<rect x="366.24" y="672.20" width="4.40" height="4.40" fill="#e8943a" stroke="none" stroke-width="1" />
<rect x="376.12" y="678.30" width="4.40" height="4.40" fill="#e8943a" stroke="none" stroke-width="1" />
<rect x="386.00" y="682.20" width="4.40" height="4.40" fill="#e8943a" stroke="none" stroke-width="1" />
<rect x="395.88" y="686.60" width="4.40" height="4.40" fill="#e8943a" stroke="none" stroke-width="1" />
<rect x="405.76" y="690.90" width="4.40" height="4.40" fill="#e8943a" stroke="none" stroke-width="1" />
<rect x="415.64" y="694.80" width="4.40" height="4.40" fill="#e8943a" stroke="none" stroke-width="1" />
<rect x="425.52" y="698.50" width="4.40" height="4.40" fill="#e8943a" stroke="none" stroke-width="1" />
<rect x="435.40" y="701.80" width="4.40" height="4.40" fill="#e8943a" stroke="none" stroke-width="1" />
<rect x="445.28" y="705.00" width="4.40" height="4.40" fill="#e8943a" stroke="none" stroke-width="1" />
<rect x="455.16" y="707.60" width="4.40" height="4.40" fill="#e8943a" stroke="none" stroke-width="1" />
<polyline points="289.40,615.80 299.28,632.00 309.16,640.50 319.04,650.80 328.92,660.30 338.80,668.80 348.68,676.40 358.56,683.40 368.44,689.50 378.32,695.80 388.20,701.50 398.08,706.60 407.96,711.70 417.84,716.30 427.72,720.60 437.60,724.70 447.48,727.80 457.36,731.20" fill="none" stroke="#2a958c" stroke-width="1.2" stroke-linejoin="round" />
<circle cx="289.40" cy="615.80" r="2.4" fill="#13877e" />
<circle cx="299.28" cy="632.00" r="2.4" fill="#13877e" />
<circle cx="309.16" cy="640.50" r="2.4" fill="#13877e" />
<circle cx="319.04" cy="650.80" r="2.4" fill="#13877e" />
<circle cx="328.92" cy="660.30" r="2.4" fill="#13877e" />
<circle cx="338.80" cy="668.80" r="2.4" fill="#13877e" />
<circle cx="348.68" cy="676.40" r="2.4" fill="#13877e" />
<circle cx="358.56" cy="683.40" r="2.4" fill="#13877e" />
<circle cx="368.44" cy="689.50" r="2.4" fill="#13877e" />
<circle cx="378.32" cy="695.80" r="2.4" fill="#13877e" />
<circle cx="388.20" cy="701.50" r="2.4" fill="#13877e" />
<circle cx="398.08" cy="706.60" r="2.4" fill="#13877e" />
<circle cx="407.96" cy="711.70" r="2.4" fill="#13877e" />
<circle cx="417.84" cy="716.30" r="2.4" fill="#13877e" />
<circle cx="427.72" cy="720.60" r="2.4" fill="#13877e" />
<circle cx="437.60" cy="724.70" r="2.4" fill="#13877e" />
<circle cx="447.48" cy="727.80" r="2.4" fill="#13877e" />
<circle cx="457.36" cy="731.20" r="2.4" fill="#13877e" />
<line x1="407.30" y1="607.50" x2="427.40" y2="607.50" stroke="#eb9f52" stroke-width="1" />
<rect x="415.35" y="605.50" width="4.00" height="4.00" fill="#e8943a" stroke="none" stroke-width="1" />
<text x="432.40" y="610.54" font-size="8.5" text-anchor="start" fill="#111" font-weight="normal" font-style="normal"  stroke="#111" stroke-width="0.1">LCP</text>
<line x1="407.30" y1="618.00" x2="427.40" y2="618.00" stroke="#2a958c" stroke-width="1" />
<circle cx="417.35" cy="618.00" r="2.1" fill="#13877e" />
<text x="432.40" y="621.04" font-size="8.5" text-anchor="start" fill="#111" font-weight="normal" font-style="normal"  stroke="#111" stroke-width="0.1">RCP</text>
<rect x="287.70" y="597.90" width="172.00" height="138.10" fill="none" stroke="#000" stroke-width="1.4" />
<text x="0" y="0" transform="translate(257.8,667.2) rotate(-90)" font-size="10.5" text-anchor="middle" fill="#111" stroke="#111" stroke-width="0.22"><tspan font-style="italic">D</tspan><tspan font-size="7.5" dy="-4">*</tspan><tspan dy="4"> (Jones)</tspan></text>
<text x="373.00" y="766.60" font-size="10.5" text-anchor="middle" fill="#111" font-weight="normal" font-style="normal"  stroke="#111" stroke-width="0.22"><tspan font-style="italic">T</tspan> (K)</text>
<text x="470.50" y="601.00" font-size="14.5" text-anchor="start" fill="#000" font-weight="bold" font-style="normal"  stroke="#000" stroke-width="0.22">j</text>
<rect x="508.50" y="598.00" width="34.84" height="138.10" fill="url(#jB1)" stroke="none" stroke-width="1" />
<rect x="543.34" y="598.00" width="69.67" height="138.10" fill="url(#jS)" stroke="none" stroke-width="1" />
<rect x="613.00" y="598.00" width="67.50" height="138.10" fill="url(#jB2)" stroke="none" stroke-width="1" />
<line x1="508.50" y1="622.10" x2="680.50" y2="622.10" stroke="#e06b6b" stroke-width="1.2" stroke-dasharray="5 3.8"/>
<line x1="508.50" y1="716.20" x2="680.50" y2="716.20" stroke="#dd3c3c" stroke-width="1.0" stroke-dasharray="5 3.8"/>
<path d="M508.5,610.1 L543.2,610.1 C543.35,611.75 543.75,615.63 544.10,620.00 C544.45,624.37 544.85,630.57 545.30,636.30 C545.75,642.03 546.25,648.37 546.80,654.40 C547.35,660.43 547.90,666.47 548.60,672.50 C549.30,678.53 550.10,685.17 551.00,690.60 C551.90,696.03 552.88,700.87 554.00,705.10 C555.12,709.33 556.33,712.97 557.70,716.00 C559.07,719.03 560.25,721.48 562.20,723.30 C564.15,725.12 566.38,726.08 569.40,726.90 C572.42,727.72 576.03,727.97 580.30,728.20 C584.57,728.43 589.62,728.28 595.00,728.30 C600.38,728.32 609.67,728.30 612.60,728.30 C612.63,726.25 612.62,720.77 612.80,716.00 C612.98,711.23 613.33,705.43 613.70,699.70 C614.07,693.97 614.48,687.65 615.00,681.60 C615.52,675.55 616.05,669.45 616.80,663.40 C617.55,657.35 618.45,650.73 619.50,645.30 C620.55,639.87 621.58,635.03 623.10,630.80 C624.62,626.57 626.48,622.77 628.60,619.90 C630.72,617.03 632.78,615.10 635.80,613.60 C638.82,612.10 641.83,611.48 646.70,610.90 C651.57,610.32 659.37,610.25 665.00,610.10 C670.63,609.95 677.92,610.02 680.50,610.00" fill="none" stroke="#d3111b" stroke-width="1.9" stroke-linejoin="round"/>
<rect x="508.5" y="598.0" width="172.0" height="138.10000000000002" fill="none" stroke="#555" stroke-width="0.9"/>
<text x="504.50" y="739.68" font-size="10" text-anchor="end" fill="#111" font-weight="normal" font-style="normal"  stroke="#111" stroke-width="0.22">0.3</text>
<line x1="508.50" y1="703.70" x2="510.50" y2="703.70" stroke="#555" stroke-width="0.8" />
<text x="504.50" y="707.28" font-size="10" text-anchor="end" fill="#111" font-weight="normal" font-style="normal"  stroke="#111" stroke-width="0.22">0.4</text>
<line x1="508.50" y1="671.30" x2="510.50" y2="671.30" stroke="#555" stroke-width="0.8" />
<text x="504.50" y="674.88" font-size="10" text-anchor="end" fill="#111" font-weight="normal" font-style="normal"  stroke="#111" stroke-width="0.22">0.5</text>
<line x1="508.50" y1="638.90" x2="510.50" y2="638.90" stroke="#555" stroke-width="0.8" />
<text x="504.50" y="642.48" font-size="10" text-anchor="end" fill="#111" font-weight="normal" font-style="normal"  stroke="#111" stroke-width="0.22">0.6</text>
<line x1="508.50" y1="606.50" x2="510.50" y2="606.50" stroke="#555" stroke-width="0.8" />
<text x="504.50" y="610.08" font-size="10" text-anchor="end" fill="#111" font-weight="normal" font-style="normal"  stroke="#111" stroke-width="0.22">0.7</text>
<text x="508.50" y="750.48" font-size="10" text-anchor="middle" fill="#111" font-weight="normal" font-style="normal"  stroke="#111" stroke-width="0.22">0</text>
<line x1="543.34" y1="736.10" x2="543.34" y2="734.10" stroke="#555" stroke-width="0.8" />
<text x="543.34" y="750.48" font-size="10" text-anchor="middle" fill="#111" font-weight="normal" font-style="normal"  stroke="#111" stroke-width="0.22">50</text>
<line x1="578.17" y1="736.10" x2="578.17" y2="734.10" stroke="#555" stroke-width="0.8" />
<text x="578.17" y="750.48" font-size="10" text-anchor="middle" fill="#111" font-weight="normal" font-style="normal"  stroke="#111" stroke-width="0.22">100</text>
<line x1="613.00" y1="736.10" x2="613.00" y2="734.10" stroke="#555" stroke-width="0.8" />
<text x="613.00" y="750.48" font-size="10" text-anchor="middle" fill="#111" font-weight="normal" font-style="normal"  stroke="#111" stroke-width="0.22">150</text>
<line x1="647.84" y1="736.10" x2="647.84" y2="734.10" stroke="#555" stroke-width="0.8" />
<text x="647.84" y="750.48" font-size="10" text-anchor="middle" fill="#111" font-weight="normal" font-style="normal"  stroke="#111" stroke-width="0.22">200</text>
<line x1="541.30" y1="665.00" x2="543.70" y2="683.50" stroke="#1b2ee8" stroke-width="1.3" />
<polygon points="544.5,689.0 541.4,682.6 546.0,682.0" fill="#1b2ee8"/>
<line x1="619.10" y1="688.80" x2="623.50" y2="671.20" stroke="#1b2ee8" stroke-width="1.3" />
<polygon points="624.9,665.8 625.9,672.8 621.4,671.7" fill="#1b2ee8"/>
<text x="510.00" y="701.30" font-size="10.5" text-anchor="start" fill="#2030ee" font-weight="normal" font-style="normal"  stroke="#2030ee" stroke-width="0.22">τ<tspan font-size="7.8" dy="2.6">f</tspan><tspan dy="-2.6"> = 23 ns</tspan></text>
<text x="626.70" y="701.50" font-size="10.5" text-anchor="start" fill="#2030ee" font-weight="normal" font-style="normal"  stroke="#2030ee" stroke-width="0.22">τ<tspan font-size="7.8" dy="2.6">r</tspan><tspan dy="-2.6"> = 23 ns</tspan></text>
<text x="656.00" y="619.58" font-size="10" text-anchor="start" fill="#111" font-weight="normal" font-style="normal"  stroke="#111" stroke-width="0.22">LCP</text>
<text x="656.00" y="630.88" font-size="10" text-anchor="start" fill="#111" font-weight="normal" font-style="normal"  stroke="#111" stroke-width="0.22">90 %</text>
<text x="656.60" y="715.68" font-size="10" text-anchor="start" fill="#111" font-weight="normal" font-style="normal"  stroke="#111" stroke-width="0.22">10 %</text>
<text x="0" y="0" transform="translate(479.8,667.3) rotate(-90)" font-size="10.2" text-anchor="middle" fill="#111" stroke="#111" stroke-width="0.22"><tspan font-style="italic">I</tspan> (μA)</text>
<text x="591.80" y="767.00" font-size="10.5" text-anchor="middle" fill="#111" font-weight="normal" font-style="normal"  stroke="#111" stroke-width="0.22">Time (ns)</text>
<text x="0.00" y="10.60" font-size="14.5" text-anchor="start" fill="#000" font-weight="bold" font-style="normal"  stroke="#000" stroke-width="0.22">a</text>
<line x1="40.00" y1="117.30" x2="42.20" y2="117.30" stroke="#000" stroke-width="1" />
<text x="33.50" y="120.88" font-size="10" text-anchor="end" fill="#111" font-weight="normal" font-style="normal"  stroke="#111" stroke-width="0.22">1</text>
<line x1="40.00" y1="86.00" x2="42.20" y2="86.00" stroke="#000" stroke-width="1" />
<text x="33.50" y="89.58" font-size="10" text-anchor="end" fill="#111" font-weight="normal" font-style="normal"  stroke="#111" stroke-width="0.22">2</text>
<line x1="40.00" y1="54.70" x2="42.20" y2="54.70" stroke="#000" stroke-width="1" />
<text x="33.50" y="58.28" font-size="10" text-anchor="end" fill="#111" font-weight="normal" font-style="normal"  stroke="#111" stroke-width="0.22">3</text>
<line x1="40.00" y1="23.40" x2="42.20" y2="23.40" stroke="#000" stroke-width="1" />
<text x="33.50" y="26.98" font-size="10" text-anchor="end" fill="#111" font-weight="normal" font-style="normal"  stroke="#111" stroke-width="0.22">4</text>
<line x1="209.50" y1="8.00" x2="211.70" y2="8.00" stroke="#000" stroke-width="1" />
<text x="216.30" y="11.58" font-size="10" text-anchor="start" fill="#111" font-weight="normal" font-style="normal"  stroke="#111" stroke-width="0.22">1.8</text>
<line x1="209.50" y1="62.60" x2="211.70" y2="62.60" stroke="#000" stroke-width="1" />
<text x="216.30" y="66.18" font-size="10" text-anchor="start" fill="#111" font-weight="normal" font-style="normal"  stroke="#111" stroke-width="0.22">1.6</text>
<line x1="209.50" y1="117.20" x2="211.70" y2="117.20" stroke="#000" stroke-width="1" />
<text x="216.30" y="120.78" font-size="10" text-anchor="start" fill="#111" font-weight="normal" font-style="normal"  stroke="#111" stroke-width="0.22">1.4</text>
<line x1="45.25" y1="145.80" x2="45.25" y2="144.30" stroke="#000" stroke-width="0.8" />
<line x1="51.99" y1="145.80" x2="51.99" y2="144.30" stroke="#000" stroke-width="0.8" />
<line x1="56.77" y1="145.80" x2="56.77" y2="144.30" stroke="#000" stroke-width="0.8" />
<line x1="60.48" y1="145.80" x2="60.48" y2="144.30" stroke="#000" stroke-width="0.8" />
<line x1="63.51" y1="145.80" x2="63.51" y2="144.30" stroke="#000" stroke-width="0.8" />
<line x1="66.07" y1="145.80" x2="66.07" y2="144.30" stroke="#000" stroke-width="0.8" />
<line x1="68.29" y1="145.80" x2="68.29" y2="144.30" stroke="#000" stroke-width="0.8" />
<line x1="70.25" y1="145.80" x2="70.25" y2="144.30" stroke="#000" stroke-width="0.8" />
<line x1="72.00" y1="145.80" x2="72.00" y2="143.30" stroke="#000" stroke-width="1" />
<line x1="83.52" y1="145.80" x2="83.52" y2="144.30" stroke="#000" stroke-width="0.8" />
<line x1="90.26" y1="145.80" x2="90.26" y2="144.30" stroke="#000" stroke-width="0.8" />
<line x1="95.04" y1="145.80" x2="95.04" y2="144.30" stroke="#000" stroke-width="0.8" />
<line x1="98.75" y1="145.80" x2="98.75" y2="144.30" stroke="#000" stroke-width="0.8" />
<line x1="101.78" y1="145.80" x2="101.78" y2="144.30" stroke="#000" stroke-width="0.8" />
<line x1="104.34" y1="145.80" x2="104.34" y2="144.30" stroke="#000" stroke-width="0.8" />
<line x1="106.56" y1="145.80" x2="106.56" y2="144.30" stroke="#000" stroke-width="0.8" />
<line x1="108.52" y1="145.80" x2="108.52" y2="144.30" stroke="#000" stroke-width="0.8" />
<line x1="110.27" y1="145.80" x2="110.27" y2="143.30" stroke="#000" stroke-width="1" />
<line x1="121.79" y1="145.80" x2="121.79" y2="144.30" stroke="#000" stroke-width="0.8" />
<line x1="128.53" y1="145.80" x2="128.53" y2="144.30" stroke="#000" stroke-width="0.8" />
<line x1="133.31" y1="145.80" x2="133.31" y2="144.30" stroke="#000" stroke-width="0.8" />
<line x1="137.02" y1="145.80" x2="137.02" y2="144.30" stroke="#000" stroke-width="0.8" />
<line x1="140.05" y1="145.80" x2="140.05" y2="144.30" stroke="#000" stroke-width="0.8" />
<line x1="142.61" y1="145.80" x2="142.61" y2="144.30" stroke="#000" stroke-width="0.8" />
<line x1="144.83" y1="145.80" x2="144.83" y2="144.30" stroke="#000" stroke-width="0.8" />
<line x1="146.79" y1="145.80" x2="146.79" y2="144.30" stroke="#000" stroke-width="0.8" />
<line x1="148.54" y1="145.80" x2="148.54" y2="143.30" stroke="#000" stroke-width="1" />
<line x1="160.06" y1="145.80" x2="160.06" y2="144.30" stroke="#000" stroke-width="0.8" />
<line x1="166.80" y1="145.80" x2="166.80" y2="144.30" stroke="#000" stroke-width="0.8" />
<line x1="171.58" y1="145.80" x2="171.58" y2="144.30" stroke="#000" stroke-width="0.8" />
<line x1="175.29" y1="145.80" x2="175.29" y2="144.30" stroke="#000" stroke-width="0.8" />
<line x1="178.32" y1="145.80" x2="178.32" y2="144.30" stroke="#000" stroke-width="0.8" />
<line x1="180.88" y1="145.80" x2="180.88" y2="144.30" stroke="#000" stroke-width="0.8" />
<line x1="183.10" y1="145.80" x2="183.10" y2="144.30" stroke="#000" stroke-width="0.8" />
<line x1="185.06" y1="145.80" x2="185.06" y2="144.30" stroke="#000" stroke-width="0.8" />
<line x1="186.81" y1="145.80" x2="186.81" y2="143.30" stroke="#000" stroke-width="1" />
<line x1="198.33" y1="145.80" x2="198.33" y2="144.30" stroke="#000" stroke-width="0.8" />
<line x1="205.07" y1="145.80" x2="205.07" y2="144.30" stroke="#000" stroke-width="0.8" />
<line x1="209.85" y1="145.80" x2="209.85" y2="144.30" stroke="#000" stroke-width="0.8" />
<text x="72.00" y="159.78" font-size="10" text-anchor="middle" fill="#111" font-weight="normal" font-style="normal"  stroke="#111" stroke-width="0.22">10</text>
<text x="110.27" y="159.78" font-size="10" text-anchor="middle" fill="#111" font-weight="normal" font-style="normal"  stroke="#111" stroke-width="0.22">100</text>
<text x="148.54" y="159.78" font-size="10" text-anchor="middle" fill="#111" font-weight="normal" font-style="normal"  stroke="#111" stroke-width="0.22">1000</text>
<text x="186.81" y="159.78" font-size="10" text-anchor="middle" fill="#111" font-weight="normal" font-style="normal"  stroke="#111" stroke-width="0.22">10000</text>
<polyline points="44.30,36.80 55.70,35.60 74.10,34.50 94.10,34.20 112.10,34.30 132.20,34.70 150.40,37.40 170.80,48.00 189.00,66.80 209.10,89.60" fill="none" stroke="#eb9f52" stroke-width="1.1" stroke-linejoin="round" />
<rect x="42.10" y="34.60" width="4.40" height="4.40" fill="#e8943a" stroke="none" stroke-width="1" />
<rect x="53.50" y="33.40" width="4.40" height="4.40" fill="#e8943a" stroke="none" stroke-width="1" />
<rect x="71.90" y="32.30" width="4.40" height="4.40" fill="#e8943a" stroke="none" stroke-width="1" />
<rect x="91.90" y="32.00" width="4.40" height="4.40" fill="#e8943a" stroke="none" stroke-width="1" />
<rect x="109.90" y="32.10" width="4.40" height="4.40" fill="#e8943a" stroke="none" stroke-width="1" />
<rect x="130.00" y="32.50" width="4.40" height="4.40" fill="#e8943a" stroke="none" stroke-width="1" />
<rect x="148.20" y="35.20" width="4.40" height="4.40" fill="#e8943a" stroke="none" stroke-width="1" />
<rect x="168.60" y="45.80" width="4.40" height="4.40" fill="#e8943a" stroke="none" stroke-width="1" />
<rect x="186.80" y="64.60" width="4.40" height="4.40" fill="#e8943a" stroke="none" stroke-width="1" />
<rect x="206.90" y="87.40" width="4.40" height="4.40" fill="#e8943a" stroke="none" stroke-width="1" />
<polyline points="44.30,40.60 55.70,52.20 74.10,59.60 94.10,62.20 112.10,63.10 132.20,63.20 150.40,65.50 170.80,74.00 189.00,93.90 209.10,121.20" fill="none" stroke="#b3c0e0" stroke-width="1" stroke-linejoin="round" />
<polygon points="44.30,37.70 47.20,40.60 44.30,43.50 41.40,40.60" fill="#9cafdc"/>
<polygon points="55.70,49.30 58.60,52.20 55.70,55.10 52.80,52.20" fill="#9cafdc"/>
<polygon points="74.10,56.70 77.00,59.60 74.10,62.50 71.20,59.60" fill="#9cafdc"/>
<polygon points="94.10,59.30 97.00,62.20 94.10,65.10 91.20,62.20" fill="#9cafdc"/>
<polygon points="112.10,60.20 115.00,63.10 112.10,66.00 109.20,63.10" fill="#9cafdc"/>
<polygon points="132.20,60.30 135.10,63.20 132.20,66.10 129.30,63.20" fill="#9cafdc"/>
<polygon points="150.40,62.60 153.30,65.50 150.40,68.40 147.50,65.50" fill="#9cafdc"/>
<polygon points="170.80,71.10 173.70,74.00 170.80,76.90 167.90,74.00" fill="#9cafdc"/>
<polygon points="189.00,91.00 191.90,93.90 189.00,96.80 186.10,93.90" fill="#9cafdc"/>
<polygon points="209.10,118.30 212.00,121.20 209.10,124.10 206.20,121.20" fill="#9cafdc"/>
<polyline points="44.30,139.10 55.70,137.80 74.10,136.60 94.10,136.40 112.10,136.40 132.20,136.40 150.40,136.40 170.80,136.40 189.00,137.10 209.10,138.10" fill="none" stroke="#2a958c" stroke-width="1.2" stroke-linejoin="round" />
<circle cx="44.30" cy="139.10" r="2.4" fill="#13877e" />
<circle cx="55.70" cy="137.80" r="2.4" fill="#13877e" />
<circle cx="74.10" cy="136.60" r="2.4" fill="#13877e" />
<circle cx="94.10" cy="136.40" r="2.4" fill="#13877e" />
<circle cx="112.10" cy="136.40" r="2.4" fill="#13877e" />
<circle cx="132.20" cy="136.40" r="2.4" fill="#13877e" />
<circle cx="150.40" cy="136.40" r="2.4" fill="#13877e" />
<circle cx="170.80" cy="136.40" r="2.4" fill="#13877e" />
<circle cx="189.00" cy="137.10" r="2.4" fill="#13877e" />
<circle cx="209.10" cy="138.10" r="2.4" fill="#13877e" />
<line x1="164.60" y1="13.30" x2="185.00" y2="13.30" stroke="#eb9f52" stroke-width="1" />
<rect x="172.80" y="11.30" width="4.00" height="4.00" fill="#e8943a" stroke="none" stroke-width="1" />
<text x="191.70" y="16.34" font-size="8.5" text-anchor="start" fill="#111" font-weight="normal" font-style="normal"  stroke="#111" stroke-width="0.1">LCP</text>
<line x1="164.60" y1="25.00" x2="185.00" y2="25.00" stroke="#2a958c" stroke-width="1" />
<circle cx="174.80" cy="25.00" r="2.1" fill="#13877e" />
<text x="191.70" y="28.04" font-size="8.5" text-anchor="start" fill="#111" font-weight="normal" font-style="normal"  stroke="#111" stroke-width="0.1">RCP</text>
<line x1="164.60" y1="36.80" x2="185.00" y2="36.80" stroke="#b3c0e0" stroke-width="1" />
<polygon points="174.80,33.90 177.70,36.80 174.80,39.70 171.90,36.80" fill="#9cafdc"/>
<text x="191.70" y="39.84" font-size="8.5" text-anchor="start" fill="#111" font-weight="normal" font-style="normal"  stroke="#111" stroke-width="0.1"><tspan font-style="italic">g</tspan><tspan font-size="6.8" dy="2.6">ph</tspan></text>
<line x1="119.90" y1="56.40" x2="142.90" y2="56.40" stroke="#8fa3d4" stroke-width="1.1" />
<polygon points="147.40,56.40 142.40,54.00 142.40,58.80" fill="#8fa3d4"/>
<rect x="40.00" y="7.50" width="171.70" height="138.30" fill="none" stroke="#000" stroke-width="1.4" />
<text x="0" y="0" transform="translate(15.00,75.80) rotate(-90)" font-size="10.5" text-anchor="middle" fill="#111" stroke="#111" stroke-width="0.22"><tspan font-style="italic">R</tspan> (×10<tspan font-size="7.5" dy="-4">3</tspan><tspan dy="4"> A W</tspan><tspan font-size="7.5" dy="-4"> −1</tspan><tspan dy="4">)</tspan></text>
<text x="125.50" y="177.60" font-size="10.3" text-anchor="middle" fill="#111" font-weight="normal" font-style="normal"  stroke="#111" stroke-width="0.22"><tspan font-style="italic">P</tspan><tspan font-size="7.5" dy="2.5">in</tspan><tspan dy="-2.5"> (W m</tspan><tspan font-size="7.5" dy="-4">−2</tspan><tspan dy="4">)</tspan></text>
<text x="0" y="0" transform="translate(241.20,76.70) rotate(-90)" font-size="10.5" text-anchor="middle" fill="#111" stroke="#111" stroke-width="0.22"><tspan font-style="italic">g</tspan><tspan font-size="7.5" dy="2">ph</tspan></text>
<text x="250.50" y="10.70" font-size="14.5" text-anchor="start" fill="#000" font-weight="bold" font-style="normal"  stroke="#000" stroke-width="0.22">b</text>
<line x1="290.30" y1="119.63" x2="292.50" y2="119.63" stroke="#000" stroke-width="1" />
<text x="286.00" y="123.21" font-size="10" text-anchor="end" fill="#111" font-weight="normal" font-style="normal"  stroke="#111" stroke-width="0.22">1</text>
<line x1="290.30" y1="94.56" x2="292.50" y2="94.56" stroke="#000" stroke-width="1" />
<text x="286.00" y="98.14" font-size="10" text-anchor="end" fill="#111" font-weight="normal" font-style="normal"  stroke="#111" stroke-width="0.22">2</text>
<line x1="290.30" y1="69.49" x2="292.50" y2="69.49" stroke="#000" stroke-width="1" />
<text x="286.00" y="73.07" font-size="10" text-anchor="end" fill="#111" font-weight="normal" font-style="normal"  stroke="#111" stroke-width="0.22">3</text>
<line x1="290.30" y1="44.42" x2="292.50" y2="44.42" stroke="#000" stroke-width="1" />
<text x="286.00" y="48.00" font-size="10" text-anchor="end" fill="#111" font-weight="normal" font-style="normal"  stroke="#111" stroke-width="0.22">4</text>
<line x1="290.30" y1="19.35" x2="292.50" y2="19.35" stroke="#000" stroke-width="1" />
<text x="286.00" y="22.93" font-size="10" text-anchor="end" fill="#111" font-weight="normal" font-style="normal"  stroke="#111" stroke-width="0.22">5</text>
<line x1="459.80" y1="30.70" x2="462.00" y2="30.70" stroke="#000" stroke-width="1" />
<text x="466.50" y="34.28" font-size="10" text-anchor="start" fill="#111" font-weight="normal" font-style="normal"  stroke="#111" stroke-width="0.22">1.8</text>
<line x1="459.80" y1="76.10" x2="462.00" y2="76.10" stroke="#000" stroke-width="1" />
<text x="466.50" y="79.68" font-size="10" text-anchor="start" fill="#111" font-weight="normal" font-style="normal"  stroke="#111" stroke-width="0.22">1.6</text>
<line x1="459.80" y1="121.50" x2="462.00" y2="121.50" stroke="#000" stroke-width="1" />
<text x="466.50" y="125.08" font-size="10" text-anchor="start" fill="#111" font-weight="normal" font-style="normal"  stroke="#111" stroke-width="0.22">1.4</text>
<line x1="294.20" y1="145.30" x2="294.20" y2="143.10" stroke="#000" stroke-width="1" />
<text x="294.20" y="158.58" font-size="10" text-anchor="middle" fill="#111" font-weight="normal" font-style="normal"  stroke="#111" stroke-width="0.22">0.0</text>
<line x1="335.12" y1="145.30" x2="335.12" y2="143.10" stroke="#000" stroke-width="1" />
<text x="335.12" y="158.58" font-size="10" text-anchor="middle" fill="#111" font-weight="normal" font-style="normal"  stroke="#111" stroke-width="0.22">0.5</text>
<line x1="376.05" y1="145.30" x2="376.05" y2="143.10" stroke="#000" stroke-width="1" />
<text x="376.05" y="158.58" font-size="10" text-anchor="middle" fill="#111" font-weight="normal" font-style="normal"  stroke="#111" stroke-width="0.22">1.0</text>
<line x1="416.97" y1="145.30" x2="416.97" y2="143.10" stroke="#000" stroke-width="1" />
<text x="416.97" y="158.58" font-size="10" text-anchor="middle" fill="#111" font-weight="normal" font-style="normal"  stroke="#111" stroke-width="0.22">1.5</text>
<line x1="457.90" y1="145.30" x2="457.90" y2="143.10" stroke="#000" stroke-width="1" />
<text x="457.90" y="158.58" font-size="10" text-anchor="middle" fill="#111" font-weight="normal" font-style="normal"  stroke="#111" stroke-width="0.22">2.0</text>
<polyline points="294.20,52.30 302.38,51.40 310.57,50.40 318.75,48.90 326.94,46.90 335.12,44.50 343.31,42.00 351.50,39.00 359.68,35.80 367.87,32.70 376.05,29.90 384.24,26.90 392.42,23.80 400.61,20.90 408.79,17.50 416.97,15.30 425.16,14.90 433.34,15.00 441.53,14.90 449.71,14.70 457.90,14.30" fill="none" stroke="#eb9f52" stroke-width="1.1" stroke-linejoin="round" />
<rect x="292.00" y="50.10" width="4.40" height="4.40" fill="#e8943a" stroke="none" stroke-width="1" />
<rect x="300.19" y="49.20" width="4.40" height="4.40" fill="#e8943a" stroke="none" stroke-width="1" />
<rect x="308.37" y="48.20" width="4.40" height="4.40" fill="#e8943a" stroke="none" stroke-width="1" />
<rect x="316.56" y="46.70" width="4.40" height="4.40" fill="#e8943a" stroke="none" stroke-width="1" />
<rect x="324.74" y="44.70" width="4.40" height="4.40" fill="#e8943a" stroke="none" stroke-width="1" />
<rect x="332.93" y="42.30" width="4.40" height="4.40" fill="#e8943a" stroke="none" stroke-width="1" />
<rect x="341.11" y="39.80" width="4.40" height="4.40" fill="#e8943a" stroke="none" stroke-width="1" />
<rect x="349.30" y="36.80" width="4.40" height="4.40" fill="#e8943a" stroke="none" stroke-width="1" />
<rect x="357.48" y="33.60" width="4.40" height="4.40" fill="#e8943a" stroke="none" stroke-width="1" />
<rect x="365.67" y="30.50" width="4.40" height="4.40" fill="#e8943a" stroke="none" stroke-width="1" />
<rect x="373.85" y="27.70" width="4.40" height="4.40" fill="#e8943a" stroke="none" stroke-width="1" />
<rect x="382.04" y="24.70" width="4.40" height="4.40" fill="#e8943a" stroke="none" stroke-width="1" />
<rect x="390.22" y="21.60" width="4.40" height="4.40" fill="#e8943a" stroke="none" stroke-width="1" />
<rect x="398.41" y="18.70" width="4.40" height="4.40" fill="#e8943a" stroke="none" stroke-width="1" />
<rect x="406.59" y="15.30" width="4.40" height="4.40" fill="#e8943a" stroke="none" stroke-width="1" />
<rect x="414.77" y="13.10" width="4.40" height="4.40" fill="#e8943a" stroke="none" stroke-width="1" />
<rect x="422.96" y="12.70" width="4.40" height="4.40" fill="#e8943a" stroke="none" stroke-width="1" />
<rect x="431.14" y="12.80" width="4.40" height="4.40" fill="#e8943a" stroke="none" stroke-width="1" />
<rect x="439.33" y="12.70" width="4.40" height="4.40" fill="#e8943a" stroke="none" stroke-width="1" />
<rect x="447.51" y="12.50" width="4.40" height="4.40" fill="#e8943a" stroke="none" stroke-width="1" />
<rect x="455.70" y="12.10" width="4.40" height="4.40" fill="#e8943a" stroke="none" stroke-width="1" />
<polyline points="294.20,77.70 302.38,78.10 310.57,78.50 318.75,79.30 326.94,80.10 335.12,81.30 343.31,82.60 351.50,84.40 359.68,86.30 367.87,87.90 376.05,89.10 384.24,90.20 392.42,90.50 400.61,90.50 408.79,89.30 416.97,88.30 425.16,87.60 433.34,86.60 441.53,85.80 449.71,85.10 457.90,84.70" fill="none" stroke="#b3c0e0" stroke-width="1" stroke-linejoin="round" />
<polygon points="294.20,74.80 297.10,77.70 294.20,80.60 291.30,77.70" fill="#9cafdc"/>
<polygon points="302.38,75.20 305.28,78.10 302.38,81.00 299.49,78.10" fill="#9cafdc"/>
<polygon points="310.57,75.60 313.47,78.50 310.57,81.40 307.67,78.50" fill="#9cafdc"/>
<polygon points="318.75,76.40 321.65,79.30 318.75,82.20 315.86,79.30" fill="#9cafdc"/>
<polygon points="326.94,77.20 329.84,80.10 326.94,83.00 324.04,80.10" fill="#9cafdc"/>
<polygon points="335.12,78.40 338.02,81.30 335.12,84.20 332.23,81.30" fill="#9cafdc"/>
<polygon points="343.31,79.70 346.21,82.60 343.31,85.50 340.41,82.60" fill="#9cafdc"/>
<polygon points="351.50,81.50 354.39,84.40 351.50,87.30 348.60,84.40" fill="#9cafdc"/>
<polygon points="359.68,83.40 362.58,86.30 359.68,89.20 356.78,86.30" fill="#9cafdc"/>
<polygon points="367.87,85.00 370.76,87.90 367.87,90.80 364.97,87.90" fill="#9cafdc"/>
<polygon points="376.05,86.20 378.95,89.10 376.05,92.00 373.15,89.10" fill="#9cafdc"/>
<polygon points="384.24,87.30 387.13,90.20 384.24,93.10 381.34,90.20" fill="#9cafdc"/>
<polygon points="392.42,87.60 395.32,90.50 392.42,93.40 389.52,90.50" fill="#9cafdc"/>
<polygon points="400.61,87.60 403.50,90.50 400.61,93.40 397.71,90.50" fill="#9cafdc"/>
<polygon points="408.79,86.40 411.69,89.30 408.79,92.20 405.89,89.30" fill="#9cafdc"/>
<polygon points="416.97,85.40 419.87,88.30 416.97,91.20 414.07,88.30" fill="#9cafdc"/>
<polygon points="425.16,84.70 428.06,87.60 425.16,90.50 422.26,87.60" fill="#9cafdc"/>
<polygon points="433.34,83.70 436.24,86.60 433.34,89.50 430.44,86.60" fill="#9cafdc"/>
<polygon points="441.53,82.90 444.43,85.80 441.53,88.70 438.63,85.80" fill="#9cafdc"/>
<polygon points="449.71,82.20 452.61,85.10 449.71,88.00 446.81,85.10" fill="#9cafdc"/>
<polygon points="457.90,81.80 460.80,84.70 457.90,87.60 455.00,84.70" fill="#9cafdc"/>
<polyline points="294.20,134.60 302.38,134.40 310.57,134.10 318.75,133.80 326.94,133.50 335.12,133.10 343.31,132.70 351.50,131.90 359.68,131.20 367.87,130.60 376.05,130.00 384.24,129.70 392.42,129.50 400.61,128.90 408.79,128.60 416.97,128.40 425.16,128.60 433.34,128.90 441.53,129.00 449.71,129.00 457.90,129.00" fill="none" stroke="#2a958c" stroke-width="1.2" stroke-linejoin="round" />
<circle cx="294.20" cy="134.60" r="2.4" fill="#13877e" />
<circle cx="302.38" cy="134.40" r="2.4" fill="#13877e" />
<circle cx="310.57" cy="134.10" r="2.4" fill="#13877e" />
<circle cx="318.75" cy="133.80" r="2.4" fill="#13877e" />
<circle cx="326.94" cy="133.50" r="2.4" fill="#13877e" />
<circle cx="335.12" cy="133.10" r="2.4" fill="#13877e" />
<circle cx="343.31" cy="132.70" r="2.4" fill="#13877e" />
<circle cx="351.50" cy="131.90" r="2.4" fill="#13877e" />
<circle cx="359.68" cy="131.20" r="2.4" fill="#13877e" />
<circle cx="367.87" cy="130.60" r="2.4" fill="#13877e" />
<circle cx="376.05" cy="130.00" r="2.4" fill="#13877e" />
<circle cx="384.24" cy="129.70" r="2.4" fill="#13877e" />
<circle cx="392.42" cy="129.50" r="2.4" fill="#13877e" />
<circle cx="400.61" cy="128.90" r="2.4" fill="#13877e" />
<circle cx="408.79" cy="128.60" r="2.4" fill="#13877e" />
<circle cx="416.97" cy="128.40" r="2.4" fill="#13877e" />
<circle cx="425.16" cy="128.60" r="2.4" fill="#13877e" />
<circle cx="433.34" cy="128.90" r="2.4" fill="#13877e" />
<circle cx="441.53" cy="129.00" r="2.4" fill="#13877e" />
<circle cx="449.71" cy="129.00" r="2.4" fill="#13877e" />
<circle cx="457.90" cy="129.00" r="2.4" fill="#13877e" />
<line x1="295.00" y1="15.30" x2="315.50" y2="15.30" stroke="#eb9f52" stroke-width="1" />
<rect x="303.25" y="13.30" width="4.00" height="4.00" fill="#e8943a" stroke="none" stroke-width="1" />
<text x="320.60" y="18.34" font-size="8.5" text-anchor="start" fill="#111" font-weight="normal" font-style="normal"  stroke="#111" stroke-width="0.1">LCP</text>
<line x1="295.00" y1="26.70" x2="315.50" y2="26.70" stroke="#2a958c" stroke-width="1" />
<circle cx="305.25" cy="26.70" r="2.1" fill="#13877e" />
<text x="320.60" y="29.74" font-size="8.5" text-anchor="start" fill="#111" font-weight="normal" font-style="normal"  stroke="#111" stroke-width="0.1">RCP</text>
<line x1="295.00" y1="37.00" x2="315.50" y2="37.00" stroke="#b3c0e0" stroke-width="1" />
<polygon points="305.25,34.10 308.15,37.00 305.25,39.90 302.35,37.00" fill="#9cafdc"/>
<text x="320.60" y="40.04" font-size="8.5" text-anchor="start" fill="#111" font-weight="normal" font-style="normal"  stroke="#111" stroke-width="0.1"><tspan font-style="italic">g</tspan><tspan font-size="6.8" dy="2.6">ph</tspan></text>
<line x1="387.20" y1="81.50" x2="408.50" y2="81.50" stroke="#8fa3d4" stroke-width="1.1" />
<polygon points="413.00,81.50 408.00,79.10 408.00,83.90" fill="#8fa3d4"/>
<rect x="290.30" y="7.40" width="171.70" height="137.90" fill="none" stroke="#000" stroke-width="1.4" />
<text x="0" y="0" transform="translate(269.30,75.60) rotate(-90)" font-size="10.5" text-anchor="middle" fill="#111" stroke="#111" stroke-width="0.22"><tspan font-style="italic">R</tspan> (×10<tspan font-size="7.5" dy="-4">3</tspan><tspan dy="4"> A W</tspan><tspan font-size="7.5" dy="-4"> −1</tspan><tspan dy="4">)</tspan></text>
<text x="375.50" y="175.00" font-size="10.3" text-anchor="middle" fill="#111" font-weight="normal" font-style="normal"  stroke="#111" stroke-width="0.22"><tspan font-style="italic">V</tspan><tspan font-size="7.5" dy="2.5">g</tspan><tspan dy="-2.5"> (V)</tspan></text>
<text x="0" y="0" transform="translate(492.60,76.00) rotate(-90)" font-size="10.5" text-anchor="middle" fill="#111" stroke="#111" stroke-width="0.22"><tspan font-style="italic">g</tspan><tspan font-size="7.5" dy="2">ph</tspan></text>
<text x="498.30" y="11.00" font-size="14.5" text-anchor="start" fill="#000" font-weight="bold" font-style="normal"  stroke="#000" stroke-width="0.22">c</text>
<rect x="509.00" y="60.60" width="172.80" height="83.80" fill="url(#inas0)" stroke="none" stroke-width="1" />
<rect x="509.00" y="60.60" width="172.80" height="83.80" fill="url(#inas0v)" stroke="none" stroke-width="1" />
<rect x="509.00" y="5.80" width="172.80" height="55.00" fill="#072e69" stroke="none" stroke-width="1" />
<text x="516.30" y="18.50" font-size="10" text-anchor="start" fill="#ffffff" font-weight="normal" font-style="normal"  stroke="#ffffff" stroke-width="0.22"><tspan font-style="italic">V</tspan><tspan font-size="7.5" dy="3">g</tspan><tspan dy="-3"> = 0 V</tspan></text>
<text x="596.70" y="37.18" font-size="10" text-anchor="middle" fill="#ffffff" font-weight="normal" font-style="normal"  stroke="#ffffff" stroke-width="0.22">Si</text>
<text x="595.00" y="106.08" font-size="10" text-anchor="middle" fill="#111" font-weight="normal" font-style="normal"  stroke="#111" stroke-width="0.22">InAs</text>
<rect x="509.40" y="259.20" width="171.80" height="83.80" fill="url(#inas2)" stroke="none" stroke-width="1" />
<rect x="509.40" y="259.20" width="171.80" height="83.80" fill="url(#inas2v)" stroke="none" stroke-width="1" />
<g clip-path="url(#clip2)"><rect x="509.4" y="259.2" width="171.8" height="50" fill="url(#redband)" mask="url(#bandMask)"/></g>
<g clip-path="url(#clip2)"><g filter="url(#blur15)">
<ellipse cx="573.1" cy="259.4" rx="2.8" ry="21.0" fill="#e8452f" opacity="0.09"/>
<ellipse cx="601.3" cy="259.4" rx="3.8" ry="9.2" fill="#e8452f" opacity="0.17"/>
<ellipse cx="535.0" cy="259.4" rx="4.2" ry="9.4" fill="#e8452f" opacity="0.10"/>
<ellipse cx="586.5" cy="259.4" rx="6.1" ry="10.5" fill="#e8452f" opacity="0.12"/>
<ellipse cx="613.4" cy="259.4" rx="6.7" ry="19.5" fill="#e8452f" opacity="0.15"/>
<ellipse cx="659.8" cy="259.4" rx="2.2" ry="25.2" fill="#e8452f" opacity="0.13"/>
<ellipse cx="549.2" cy="259.4" rx="2.6" ry="14.2" fill="#e8452f" opacity="0.23"/>
<ellipse cx="554.0" cy="259.4" rx="4.9" ry="20.8" fill="#e8452f" opacity="0.15"/>
<ellipse cx="602.9" cy="259.4" rx="2.3" ry="9.2" fill="#e8452f" opacity="0.12"/>
<ellipse cx="620.5" cy="259.4" rx="4.1" ry="14.3" fill="#e8452f" opacity="0.19"/>
<ellipse cx="590.3" cy="259.4" rx="3.5" ry="23.9" fill="#e8452f" opacity="0.21"/>
<ellipse cx="562.5" cy="259.4" rx="4.9" ry="18.5" fill="#e8452f" opacity="0.24"/>
<ellipse cx="627.0" cy="259.4" rx="3.4" ry="27.6" fill="#e8452f" opacity="0.10"/>
<ellipse cx="585.6" cy="259.4" rx="5.8" ry="11.0" fill="#e8452f" opacity="0.17"/>
<ellipse cx="535.2" cy="259.4" rx="5.3" ry="23.3" fill="#e8452f" opacity="0.18"/>
<ellipse cx="646.4" cy="259.4" rx="3.6" ry="21.9" fill="#e8452f" opacity="0.19"/>
<ellipse cx="607.1" cy="259.4" rx="4.3" ry="24.8" fill="#e8452f" opacity="0.25"/>
<ellipse cx="593.1" cy="259.4" rx="5.3" ry="9.2" fill="#e8452f" opacity="0.21"/>
<ellipse cx="616.1" cy="259.4" rx="7.0" ry="24.4" fill="#e8452f" opacity="0.13"/>
<ellipse cx="581.3" cy="259.4" rx="5.3" ry="8.5" fill="#e8452f" opacity="0.16"/>
<ellipse cx="552.4" cy="259.4" rx="2.6" ry="9.2" fill="#e8452f" opacity="0.22"/>
<ellipse cx="547.2" cy="259.4" rx="3.2" ry="15.8" fill="#e8452f" opacity="0.24"/>
<ellipse cx="540.7" cy="259.4" rx="4.2" ry="19.0" fill="#e8452f" opacity="0.24"/>
<ellipse cx="639.0" cy="259.4" rx="6.3" ry="13.6" fill="#e8452f" opacity="0.15"/>
<ellipse cx="577.7" cy="259.4" rx="6.4" ry="27.2" fill="#e8452f" opacity="0.11"/>
<ellipse cx="553.4" cy="259.4" rx="3.2" ry="12.7" fill="#e8452f" opacity="0.17"/>
<ellipse cx="608.4" cy="259.4" rx="3.3" ry="8.1" fill="#e8452f" opacity="0.16"/>
<ellipse cx="579.1" cy="259.4" rx="4.8" ry="27.1" fill="#e8452f" opacity="0.20"/>
<ellipse cx="598.6" cy="259.4" rx="5.1" ry="21.5" fill="#e8452f" opacity="0.09"/>
<ellipse cx="649.6" cy="259.4" rx="5.9" ry="25.5" fill="#e8452f" opacity="0.22"/>
<ellipse cx="582.2" cy="259.4" rx="4.0" ry="10.1" fill="#e8452f" opacity="0.19"/>
<ellipse cx="538.3" cy="259.4" rx="2.3" ry="12.2" fill="#e8452f" opacity="0.11"/>
<ellipse cx="575.2" cy="259.4" rx="2.3" ry="8.0" fill="#e8452f" opacity="0.11"/>
<ellipse cx="543.5" cy="259.4" rx="3.8" ry="8.5" fill="#e8452f" opacity="0.24"/>
<ellipse cx="611.7" cy="259.4" rx="2.7" ry="13.0" fill="#e8452f" opacity="0.14"/>
<ellipse cx="578.4" cy="259.4" rx="2.6" ry="25.0" fill="#e8452f" opacity="0.26"/>
<ellipse cx="592.0" cy="259.4" rx="4.4" ry="9.7" fill="#e8452f" opacity="0.10"/>
<ellipse cx="575.6" cy="259.4" rx="3.3" ry="24.6" fill="#e8452f" opacity="0.11"/>
<ellipse cx="533.1" cy="259.4" rx="6.8" ry="18.6" fill="#e8452f" opacity="0.11"/>
<ellipse cx="602.2" cy="259.4" rx="2.1" ry="18.6" fill="#e8452f" opacity="0.26"/>
<ellipse cx="646.5" cy="263.7" rx="4.8" ry="15.2" fill="#fbe4dc" opacity="0.16"/>
<ellipse cx="634.2" cy="264.2" rx="4.1" ry="25.6" fill="#fbe4dc" opacity="0.15"/>
<ellipse cx="639.6" cy="270.2" rx="5.9" ry="27.1" fill="#fbe4dc" opacity="0.22"/>
<ellipse cx="629.9" cy="262.3" rx="2.9" ry="20.4" fill="#fbe4dc" opacity="0.15"/>
<ellipse cx="533.8" cy="271.6" rx="3.1" ry="15.2" fill="#fbe4dc" opacity="0.20"/>
<ellipse cx="590.4" cy="265.6" rx="5.7" ry="29.8" fill="#fbe4dc" opacity="0.24"/>
<ellipse cx="559.8" cy="268.2" rx="2.9" ry="13.9" fill="#fbe4dc" opacity="0.13"/>
<ellipse cx="651.5" cy="270.0" rx="5.4" ry="19.6" fill="#fbe4dc" opacity="0.20"/>
<ellipse cx="541.4" cy="269.5" rx="4.6" ry="28.2" fill="#fbe4dc" opacity="0.22"/>
<ellipse cx="594.5" cy="270.0" rx="2.7" ry="25.8" fill="#fbe4dc" opacity="0.15"/>
<ellipse cx="661.2" cy="269.2" rx="3.6" ry="18.0" fill="#fbe4dc" opacity="0.24"/>
<ellipse cx="553.0" cy="270.1" rx="2.5" ry="13.0" fill="#fbe4dc" opacity="0.24"/>
<ellipse cx="549.7" cy="265.5" rx="5.3" ry="29.6" fill="#fbe4dc" opacity="0.20"/>
<ellipse cx="604.1" cy="268.5" rx="2.5" ry="10.3" fill="#fbe4dc" opacity="0.25"/>
</g></g>
<rect x="509.40" y="204.80" width="171.80" height="54.60" fill="#072e69" stroke="none" stroke-width="1" />
<text x="517.60" y="222.60" font-size="10" text-anchor="start" fill="#ffffff" font-weight="normal" font-style="normal"  stroke="#ffffff" stroke-width="0.22"><tspan font-style="italic">V</tspan><tspan font-size="7.5" dy="3">g</tspan><tspan dy="-3"> = 2 V</tspan></text>
<text x="596.70" y="236.28" font-size="10" text-anchor="middle" fill="#ffffff" font-weight="normal" font-style="normal"  stroke="#ffffff" stroke-width="0.22">Si</text>
<text x="596.70" y="305.48" font-size="10" text-anchor="middle" fill="#111" font-weight="normal" font-style="normal"  stroke="#111" stroke-width="0.22">InAs</text>
<rect x="509.30" y="160.90" width="120.50" height="15.00" fill="url(#cbar_c)" stroke="none" stroke-width="1" />
<line x1="529.20" y1="175.90" x2="529.20" y2="173.00" stroke="#222" stroke-width="1" />
<line x1="569.60" y1="175.90" x2="569.60" y2="173.00" stroke="#222" stroke-width="1" />
<line x1="610.80" y1="175.90" x2="610.80" y2="173.00" stroke="#222" stroke-width="1" />
<text x="517.00" y="191.50" font-size="10" text-anchor="start" fill="#111" font-weight="normal" font-style="normal"  stroke="#111" stroke-width="0.22">10<tspan font-size="7.2" dy="-4.6">14.5</tspan></text>
<text x="557.50" y="191.50" font-size="10" text-anchor="start" fill="#111" font-weight="normal" font-style="normal"  stroke="#111" stroke-width="0.22">10<tspan font-size="7.2" dy="-4.6">15.5</tspan></text>
<text x="598.00" y="192.80" font-size="10" text-anchor="start" fill="#111" font-weight="normal" font-style="normal"  stroke="#111" stroke-width="0.22">10<tspan font-size="7.2" dy="-4.6">16.5</tspan></text>
<text x="638.30" y="177.00" font-size="10" text-anchor="start" fill="#111" font-weight="normal" font-style="normal"  stroke="#111" stroke-width="0.22"><tspan font-style="italic">n</tspan> (cm<tspan font-size="7.2" dy="-4">−3</tspan><tspan dy="4">)</tspan></text>
<text x="0.00" y="208.40" font-size="14.5" text-anchor="start" fill="#000" font-weight="bold" font-style="normal"  stroke="#000" stroke-width="0.22">d</text>
<rect x="40.20" y="204.30" width="57.40" height="29.10" fill="url(#siTop)" stroke="none" stroke-width="1" />
<rect x="40.20" y="315.30" width="57.40" height="27.10" fill="url(#siBot)" stroke="none" stroke-width="1" />
<rect x="97.60" y="204.30" width="114.90" height="90.10" fill="url(#inTop)" stroke="none" stroke-width="1" />
<rect x="97.60" y="320.30" width="114.90" height="22.10" fill="url(#inBot)" stroke="none" stroke-width="1" />
<polyline points="40.20,233.40 90.00,233.30 97.60,232.60 97.60,294.40 212.50,294.40" fill="none" stroke="#e1262a" stroke-width="1.2" stroke-linejoin="round" />
<polyline points="40.20,315.40 91.00,315.20 97.60,314.00 97.60,320.30 212.50,320.30" fill="none" stroke="#1f7bbd" stroke-width="1.2" stroke-linejoin="round" />
<line x1="40.20" y1="296.80" x2="212.50" y2="296.80" stroke="#2aa630" stroke-width="1.2" stroke-dasharray="1.3 2.2"/>
<line x1="98.20" y1="313.20" x2="212.50" y2="313.20" stroke="#666" stroke-width="1.0" stroke-dasharray="4.2 3"/>
<circle cx="113.70" cy="291.20" r="2.6" fill="url(#eBall)" />
<circle cx="126.70" cy="291.20" r="2.6" fill="url(#eBall)" />
<circle cx="139.80" cy="291.20" r="2.6" fill="url(#eBall)" />
<circle cx="152.10" cy="291.20" r="2.6" fill="url(#eBall)" />
<circle cx="163.20" cy="291.20" r="2.6" fill="url(#eBall)" />
<circle cx="171.70" cy="291.20" r="2.6" fill="url(#eBall)" />
<circle cx="186.40" cy="291.20" r="2.6" fill="url(#eBall)" />
<circle cx="197.80" cy="291.20" r="2.6" fill="url(#eBall)" />
<circle cx="113.90" cy="310.80" r="2.6" fill="url(#hBall)" />
<circle cx="125.50" cy="310.80" r="2.6" fill="url(#hBall)" />
<circle cx="139.50" cy="310.80" r="2.6" fill="url(#hBall)" />
<circle cx="167.40" cy="310.80" r="2.6" fill="url(#hBall)" />
<circle cx="195.00" cy="310.80" r="2.6" fill="url(#hBall)" />
<circle cx="179.4" cy="310.8" r="2.4" fill="none" stroke="#f8c440" stroke-width="0.8" stroke-dasharray="1 0.8"/>
<circle cx="125.50" cy="325.20" r="2.6" fill="url(#hBall)" />
<circle cx="155.40" cy="325.20" r="2.6" fill="url(#hBall)" />
<circle cx="179.60" cy="325.20" r="2.6" fill="url(#hBall)" />
<circle cx="195" cy="325.2" r="2.4" fill="none" stroke="#f8c440" stroke-width="0.8" stroke-dasharray="1 0.8"/>
<line x1="142.70" y1="306.50" x2="142.70" y2="311.00" stroke="#000" stroke-width="0.8" />
<polygon points="142.7,313 141.3,310.3 144.1,310.3" fill="#000"/>
<line x1="142.70" y1="327.50" x2="142.70" y2="322.50" stroke="#000" stroke-width="0.8" />
<polygon points="142.7,320.5 141.3,323.2 144.1,323.2" fill="#000"/>
<line x1="179.50" y1="313.50" x2="179.50" y2="318.00" stroke="#e5506a" stroke-width="0.8" />
<polygon points="179.5,320 178.2,317.3 180.8,317.3" fill="#e5506a"/>
<line x1="195.00" y1="320.00" x2="195.00" y2="315.50" stroke="#e5506a" stroke-width="0.8" />
<polygon points="195,313.3 193.7,316 196.3,316" fill="#e5506a"/>
<text x="145.50" y="308.80" font-size="10" text-anchor="start" fill="#111" font-weight="normal" font-style="normal"  stroke="#111" stroke-width="0.22">d<tspan font-style="italic">E</tspan><tspan font-size="7.5" dy="2.5">t</tspan></text>
<text x="72.90" y="228.98" font-size="10" text-anchor="middle" fill="#111" font-weight="normal" font-style="normal"  stroke="#111" stroke-width="0.22">Si</text>
<text x="156.60" y="228.98" font-size="10" text-anchor="middle" fill="#111" font-weight="normal" font-style="normal"  stroke="#111" stroke-width="0.22">InAs</text>
<text x="52.00" y="242.00" font-size="10" text-anchor="start" fill="#111" font-weight="normal" font-style="normal"  stroke="#111" stroke-width="0.22"><tspan font-style="italic">E</tspan><tspan font-size="7.5" dy="2.5">c</tspan></text>
<text x="52.00" y="290.90" font-size="10" text-anchor="start" fill="#111" font-weight="normal" font-style="normal"  stroke="#111" stroke-width="0.22"><tspan font-style="italic">E</tspan><tspan font-size="7.5" dy="2.5">f</tspan></text>
<text x="52.00" y="311.60" font-size="10" text-anchor="start" fill="#111" font-weight="normal" font-style="normal"  stroke="#111" stroke-width="0.22"><tspan font-style="italic">E</tspan><tspan font-size="7.5" dy="2.5">v</tspan></text>
<line x1="40.20" y1="211.30" x2="42.40" y2="211.30" stroke="#000" stroke-width="1" />
<text x="34.00" y="214.88" font-size="10" text-anchor="end" fill="#111" font-weight="normal" font-style="normal"  stroke="#111" stroke-width="0.22">1.2</text>
<line x1="40.20" y1="240.50" x2="42.40" y2="240.50" stroke="#000" stroke-width="1" />
<text x="34.00" y="244.08" font-size="10" text-anchor="end" fill="#111" font-weight="normal" font-style="normal"  stroke="#111" stroke-width="0.22">0.8</text>
<line x1="40.20" y1="269.70" x2="42.40" y2="269.70" stroke="#000" stroke-width="1" />
<text x="34.00" y="273.28" font-size="10" text-anchor="end" fill="#111" font-weight="normal" font-style="normal"  stroke="#111" stroke-width="0.22">0.4</text>
<line x1="40.20" y1="298.90" x2="42.40" y2="298.90" stroke="#000" stroke-width="1" />
<text x="34.00" y="302.48" font-size="10" text-anchor="end" fill="#111" font-weight="normal" font-style="normal"  stroke="#111" stroke-width="0.22">0.0</text>
<line x1="40.20" y1="328.10" x2="42.40" y2="328.10" stroke="#000" stroke-width="1" />
<text x="34.00" y="331.68" font-size="10" text-anchor="end" fill="#111" font-weight="normal" font-style="normal"  stroke="#111" stroke-width="0.22">−0.4</text>
<line x1="40.20" y1="342.40" x2="40.20" y2="340.20" stroke="#000" stroke-width="1" />
<text x="40.20" y="355.48" font-size="10" text-anchor="middle" fill="#111" font-weight="normal" font-style="normal"  stroke="#111" stroke-width="0.22">−10</text>
<line x1="97.60" y1="342.40" x2="97.60" y2="340.20" stroke="#000" stroke-width="1" />
<text x="97.60" y="355.48" font-size="10" text-anchor="middle" fill="#111" font-weight="normal" font-style="normal"  stroke="#111" stroke-width="0.22">0</text>
<line x1="155.00" y1="342.40" x2="155.00" y2="340.20" stroke="#000" stroke-width="1" />
<text x="155.00" y="355.48" font-size="10" text-anchor="middle" fill="#111" font-weight="normal" font-style="normal"  stroke="#111" stroke-width="0.22">10</text>
<line x1="212.40" y1="342.40" x2="212.40" y2="340.20" stroke="#000" stroke-width="1" />
<text x="212.40" y="355.48" font-size="10" text-anchor="middle" fill="#111" font-weight="normal" font-style="normal"  stroke="#111" stroke-width="0.22">20</text>
<rect x="40.20" y="204.30" width="172.30" height="138.10" fill="none" stroke="#000" stroke-width="1.4" />
<text x="0" y="0" transform="translate(8.60,281.80) rotate(-90)" font-size="10.5" text-anchor="middle" fill="#111" stroke="#111" stroke-width="0.22">Energy (eV)</text>
<text x="126.50" y="371.76" font-size="10.5" text-anchor="middle" fill="#111" font-weight="normal" font-style="normal"  stroke="#111" stroke-width="0.22">Position (nm)</text>
<text x="250.50" y="208.80" font-size="14.5" text-anchor="start" fill="#000" font-weight="bold" font-style="normal"  stroke="#000" stroke-width="0.22">e</text>
<line x1="290.20" y1="339.60" x2="292.40" y2="339.60" stroke="#000" stroke-width="1" />
<text x="286.00" y="343.18" font-size="10" text-anchor="end" fill="#111" font-weight="normal" font-style="normal"  stroke="#111" stroke-width="0.22">0</text>
<line x1="290.20" y1="303.00" x2="292.40" y2="303.00" stroke="#000" stroke-width="1" />
<text x="286.00" y="306.58" font-size="10" text-anchor="end" fill="#111" font-weight="normal" font-style="normal"  stroke="#111" stroke-width="0.22">1</text>
<line x1="290.20" y1="266.40" x2="292.40" y2="266.40" stroke="#000" stroke-width="1" />
<text x="286.00" y="269.98" font-size="10" text-anchor="end" fill="#111" font-weight="normal" font-style="normal"  stroke="#111" stroke-width="0.22">2</text>
<line x1="290.20" y1="229.80" x2="292.40" y2="229.80" stroke="#000" stroke-width="1" />
<text x="286.00" y="233.38" font-size="10" text-anchor="end" fill="#111" font-weight="normal" font-style="normal"  stroke="#111" stroke-width="0.22">3</text>
<line x1="459.80" y1="227.10" x2="462.00" y2="227.10" stroke="#000" stroke-width="1" />
<text x="466.50" y="230.68" font-size="10" text-anchor="start" fill="#111" font-weight="normal" font-style="normal"  stroke="#111" stroke-width="0.22">1.8</text>
<line x1="459.80" y1="273.40" x2="462.00" y2="273.40" stroke="#000" stroke-width="1" />
<text x="466.50" y="276.98" font-size="10" text-anchor="start" fill="#111" font-weight="normal" font-style="normal"  stroke="#111" stroke-width="0.22">1.6</text>
<line x1="459.80" y1="319.60" x2="462.00" y2="319.60" stroke="#000" stroke-width="1" />
<text x="466.50" y="323.18" font-size="10" text-anchor="start" fill="#111" font-weight="normal" font-style="normal"  stroke="#111" stroke-width="0.22">1.4</text>
<line x1="294.20" y1="342.20" x2="294.20" y2="340.00" stroke="#000" stroke-width="1" />
<text x="294.20" y="355.98" font-size="10" text-anchor="middle" fill="#111" font-weight="normal" font-style="normal"  stroke="#111" stroke-width="0.22">0.06</text>
<line x1="335.10" y1="342.20" x2="335.10" y2="340.00" stroke="#000" stroke-width="1" />
<text x="335.10" y="355.98" font-size="10" text-anchor="middle" fill="#111" font-weight="normal" font-style="normal"  stroke="#111" stroke-width="0.22">0.07</text>
<line x1="376.00" y1="342.20" x2="376.00" y2="340.00" stroke="#000" stroke-width="1" />
<text x="376.00" y="355.98" font-size="10" text-anchor="middle" fill="#111" font-weight="normal" font-style="normal"  stroke="#111" stroke-width="0.22">0.08</text>
<line x1="416.90" y1="342.20" x2="416.90" y2="340.00" stroke="#000" stroke-width="1" />
<text x="416.90" y="355.98" font-size="10" text-anchor="middle" fill="#111" font-weight="normal" font-style="normal"  stroke="#111" stroke-width="0.22">0.09</text>
<line x1="457.80" y1="342.20" x2="457.80" y2="340.00" stroke="#000" stroke-width="1" />
<text x="457.80" y="355.98" font-size="10" text-anchor="middle" fill="#111" font-weight="normal" font-style="normal"  stroke="#111" stroke-width="0.22">0.10</text>
<polyline points="294.20,302.20 314.65,296.70 335.10,290.80 355.55,283.00 376.00,274.20 396.45,263.00 416.90,250.00 437.35,234.40 457.80,215.90" fill="none" stroke="#eb9f52" stroke-width="1.1" stroke-linejoin="round" />
<rect x="292.00" y="300.00" width="4.40" height="4.40" fill="#e8943a" stroke="none" stroke-width="1" />
<rect x="312.45" y="294.50" width="4.40" height="4.40" fill="#e8943a" stroke="none" stroke-width="1" />
<rect x="332.90" y="288.60" width="4.40" height="4.40" fill="#e8943a" stroke="none" stroke-width="1" />
<rect x="353.35" y="280.80" width="4.40" height="4.40" fill="#e8943a" stroke="none" stroke-width="1" />
<rect x="373.80" y="272.00" width="4.40" height="4.40" fill="#e8943a" stroke="none" stroke-width="1" />
<rect x="394.25" y="260.80" width="4.40" height="4.40" fill="#e8943a" stroke="none" stroke-width="1" />
<rect x="414.70" y="247.80" width="4.40" height="4.40" fill="#e8943a" stroke="none" stroke-width="1" />
<rect x="435.15" y="232.20" width="4.40" height="4.40" fill="#e8943a" stroke="none" stroke-width="1" />
<rect x="455.60" y="213.70" width="4.40" height="4.40" fill="#e8943a" stroke="none" stroke-width="1" />
<polyline points="294.20,276.80 314.65,277.00 335.10,277.50 355.55,277.80 376.00,278.20 396.45,278.90 416.90,279.70 437.35,280.80 457.80,282.60" fill="none" stroke="#b3c0e0" stroke-width="1" stroke-linejoin="round" />
<polygon points="294.20,273.90 297.10,276.80 294.20,279.70 291.30,276.80" fill="#9cafdc"/>
<polygon points="314.65,274.10 317.55,277.00 314.65,279.90 311.75,277.00" fill="#9cafdc"/>
<polygon points="335.10,274.60 338.00,277.50 335.10,280.40 332.20,277.50" fill="#9cafdc"/>
<polygon points="355.55,274.90 358.45,277.80 355.55,280.70 352.65,277.80" fill="#9cafdc"/>
<polygon points="376.00,275.30 378.90,278.20 376.00,281.10 373.10,278.20" fill="#9cafdc"/>
<polygon points="396.45,276.00 399.35,278.90 396.45,281.80 393.55,278.90" fill="#9cafdc"/>
<polygon points="416.90,276.80 419.80,279.70 416.90,282.60 414.00,279.70" fill="#9cafdc"/>
<polygon points="437.35,277.90 440.25,280.80 437.35,283.70 434.45,280.80" fill="#9cafdc"/>
<polygon points="457.80,279.70 460.70,282.60 457.80,285.50 454.90,282.60" fill="#9cafdc"/>
<polyline points="294.20,334.30 314.65,333.60 335.10,332.90 355.55,332.00 376.00,331.10 396.45,329.70 416.90,328.10 437.35,326.00 457.80,323.40" fill="none" stroke="#2a958c" stroke-width="1.2" stroke-linejoin="round" />
<circle cx="294.20" cy="334.30" r="2.4" fill="#13877e" />
<circle cx="314.65" cy="333.60" r="2.4" fill="#13877e" />
<circle cx="335.10" cy="332.90" r="2.4" fill="#13877e" />
<circle cx="355.55" cy="332.00" r="2.4" fill="#13877e" />
<circle cx="376.00" cy="331.10" r="2.4" fill="#13877e" />
<circle cx="396.45" cy="329.70" r="2.4" fill="#13877e" />
<circle cx="416.90" cy="328.10" r="2.4" fill="#13877e" />
<circle cx="437.35" cy="326.00" r="2.4" fill="#13877e" />
<circle cx="457.80" cy="323.40" r="2.4" fill="#13877e" />
<line x1="295.00" y1="213.00" x2="315.50" y2="213.00" stroke="#eb9f52" stroke-width="1" />
<rect x="303.25" y="211.00" width="4.00" height="4.00" fill="#e8943a" stroke="none" stroke-width="1" />
<text x="320.60" y="216.04" font-size="8.5" text-anchor="start" fill="#111" font-weight="normal" font-style="normal"  stroke="#111" stroke-width="0.1">LCP</text>
<line x1="295.00" y1="223.80" x2="315.50" y2="223.80" stroke="#2a958c" stroke-width="1" />
<circle cx="305.25" cy="223.80" r="2.1" fill="#13877e" />
<text x="320.60" y="226.84" font-size="8.5" text-anchor="start" fill="#111" font-weight="normal" font-style="normal"  stroke="#111" stroke-width="0.1">RCP</text>
<line x1="295.00" y1="234.30" x2="315.50" y2="234.30" stroke="#b3c0e0" stroke-width="1" />
<polygon points="305.25,231.40 308.15,234.30 305.25,237.20 302.35,234.30" fill="#9cafdc"/>
<text x="320.60" y="237.34" font-size="8.5" text-anchor="start" fill="#111" font-weight="normal" font-style="normal"  stroke="#111" stroke-width="0.1"><tspan font-style="italic">g</tspan><tspan font-size="6.8" dy="2.6">ph</tspan></text>
<line x1="311.00" y1="270.20" x2="333.20" y2="270.20" stroke="#8fa3d4" stroke-width="1.1" />
<polygon points="337.70,270.20 332.70,267.80 332.70,272.60" fill="#8fa3d4"/>
<rect x="290.20" y="204.50" width="171.80" height="137.70" fill="none" stroke="#000" stroke-width="1.4" />
<text x="0" y="0" transform="translate(268.70,272.60) rotate(-90)" font-size="10.5" text-anchor="middle" fill="#111" stroke="#111" stroke-width="0.22"><tspan font-style="italic">R</tspan> (× 10<tspan font-size="7.5" dy="-4">4</tspan><tspan dy="4"> A W</tspan><tspan font-size="7.5" dy="-4"> −1</tspan><tspan dy="4">)</tspan></text>
<text x="382.50" y="372.00" font-size="10.5" text-anchor="middle" fill="#111" font-weight="normal" font-style="normal"  stroke="#111" stroke-width="0.22"><tspan font-style="italic">dE</tspan><tspan font-size="7.5" dy="2.5">t</tspan><tspan dy="-2.5"> (eV)</tspan></text>
<text x="0" y="0" transform="translate(492.80,269.80) rotate(-90)" font-size="10.5" text-anchor="middle" fill="#111" stroke="#111" stroke-width="0.22"><tspan font-style="italic">g</tspan><tspan font-size="7.5" dy="2">ph</tspan></text>
<text x="0.00" y="397.40" font-size="14.5" text-anchor="start" fill="#000" font-weight="bold" font-style="normal"  stroke="#000" stroke-width="0.22">f</text>
<line x1="40.40" y1="534.90" x2="42.60" y2="534.90" stroke="#000" stroke-width="1" />
<text x="34.00" y="538.48" font-size="10" text-anchor="end" fill="#111" font-weight="normal" font-style="normal"  stroke="#111" stroke-width="0.22">0</text>
<line x1="40.40" y1="498.10" x2="42.60" y2="498.10" stroke="#000" stroke-width="1" />
<text x="34.00" y="501.68" font-size="10" text-anchor="end" fill="#111" font-weight="normal" font-style="normal"  stroke="#111" stroke-width="0.22">1</text>
<line x1="40.40" y1="461.30" x2="42.60" y2="461.30" stroke="#000" stroke-width="1" />
<text x="34.00" y="464.88" font-size="10" text-anchor="end" fill="#111" font-weight="normal" font-style="normal"  stroke="#111" stroke-width="0.22">2</text>
<line x1="40.40" y1="424.50" x2="42.60" y2="424.50" stroke="#000" stroke-width="1" />
<text x="34.00" y="428.08" font-size="10" text-anchor="end" fill="#111" font-weight="normal" font-style="normal"  stroke="#111" stroke-width="0.22">3</text>
<line x1="210.30" y1="422.30" x2="212.50" y2="422.30" stroke="#000" stroke-width="1" />
<text x="219.30" y="425.88" font-size="10" text-anchor="start" fill="#111" font-weight="normal" font-style="normal"  stroke="#111" stroke-width="0.22">1.8</text>
<line x1="210.30" y1="468.40" x2="212.50" y2="468.40" stroke="#000" stroke-width="1" />
<text x="219.30" y="471.98" font-size="10" text-anchor="start" fill="#111" font-weight="normal" font-style="normal"  stroke="#111" stroke-width="0.22">1.6</text>
<line x1="210.30" y1="514.50" x2="212.50" y2="514.50" stroke="#000" stroke-width="1" />
<text x="219.30" y="518.08" font-size="10" text-anchor="start" fill="#111" font-weight="normal" font-style="normal"  stroke="#111" stroke-width="0.22">1.4</text>
<line x1="62.57" y1="537.40" x2="62.57" y2="535.20" stroke="#000" stroke-width="1" />
<text x="62.57" y="550.98" font-size="10" text-anchor="middle" fill="#111" font-weight="normal" font-style="normal"  stroke="#111" stroke-width="0.22">2</text>
<line x1="99.11" y1="537.40" x2="99.11" y2="535.20" stroke="#000" stroke-width="1" />
<text x="99.11" y="550.98" font-size="10" text-anchor="middle" fill="#111" font-weight="normal" font-style="normal"  stroke="#111" stroke-width="0.22">4</text>
<line x1="135.65" y1="537.40" x2="135.65" y2="535.20" stroke="#000" stroke-width="1" />
<text x="135.65" y="550.98" font-size="10" text-anchor="middle" fill="#111" font-weight="normal" font-style="normal"  stroke="#111" stroke-width="0.22">6</text>
<line x1="172.19" y1="537.40" x2="172.19" y2="535.20" stroke="#000" stroke-width="1" />
<text x="172.19" y="550.98" font-size="10" text-anchor="middle" fill="#111" font-weight="normal" font-style="normal"  stroke="#111" stroke-width="0.22">8</text>
<line x1="208.73" y1="537.40" x2="208.73" y2="535.20" stroke="#000" stroke-width="1" />
<text x="208.73" y="550.98" font-size="10" text-anchor="middle" fill="#111" font-weight="normal" font-style="normal"  stroke="#111" stroke-width="0.22">10</text>
<polyline points="44.30,509.80 62.57,498.00 80.84,487.00 99.11,475.80 117.38,464.40 135.65,453.20 153.92,442.60 172.19,431.70 190.46,420.90 208.73,410.50" fill="none" stroke="#eb9f52" stroke-width="1.1" stroke-linejoin="round" />
<rect x="42.10" y="507.60" width="4.40" height="4.40" fill="#e8943a" stroke="none" stroke-width="1" />
<rect x="60.37" y="495.80" width="4.40" height="4.40" fill="#e8943a" stroke="none" stroke-width="1" />
<rect x="78.64" y="484.80" width="4.40" height="4.40" fill="#e8943a" stroke="none" stroke-width="1" />
<rect x="96.91" y="473.60" width="4.40" height="4.40" fill="#e8943a" stroke="none" stroke-width="1" />
<rect x="115.18" y="462.20" width="4.40" height="4.40" fill="#e8943a" stroke="none" stroke-width="1" />
<rect x="133.45" y="451.00" width="4.40" height="4.40" fill="#e8943a" stroke="none" stroke-width="1" />
<rect x="151.72" y="440.40" width="4.40" height="4.40" fill="#e8943a" stroke="none" stroke-width="1" />
<rect x="169.99" y="429.50" width="4.40" height="4.40" fill="#e8943a" stroke="none" stroke-width="1" />
<rect x="188.26" y="418.70" width="4.40" height="4.40" fill="#e8943a" stroke="none" stroke-width="1" />
<rect x="206.53" y="408.30" width="4.40" height="4.40" fill="#e8943a" stroke="none" stroke-width="1" />
<polyline points="44.30,471.50 62.57,472.00 80.84,472.30 99.11,473.00 117.38,473.70 135.65,474.60 153.92,475.40 172.19,476.30 190.46,477.10 208.73,477.70" fill="none" stroke="#b3c0e0" stroke-width="1" stroke-linejoin="round" />
<polygon points="44.30,468.60 47.20,471.50 44.30,474.40 41.40,471.50" fill="#9cafdc"/>
<polygon points="62.57,469.10 65.47,472.00 62.57,474.90 59.67,472.00" fill="#9cafdc"/>
<polygon points="80.84,469.40 83.74,472.30 80.84,475.20 77.94,472.30" fill="#9cafdc"/>
<polygon points="99.11,470.10 102.01,473.00 99.11,475.90 96.21,473.00" fill="#9cafdc"/>
<polygon points="117.38,470.80 120.28,473.70 117.38,476.60 114.48,473.70" fill="#9cafdc"/>
<polygon points="135.65,471.70 138.55,474.60 135.65,477.50 132.75,474.60" fill="#9cafdc"/>
<polygon points="153.92,472.50 156.82,475.40 153.92,478.30 151.02,475.40" fill="#9cafdc"/>
<polygon points="172.19,473.40 175.09,476.30 172.19,479.20 169.29,476.30" fill="#9cafdc"/>
<polygon points="190.46,474.20 193.36,477.10 190.46,480.00 187.56,477.10" fill="#9cafdc"/>
<polygon points="208.73,474.80 211.63,477.70 208.73,480.60 205.83,477.70" fill="#9cafdc"/>
<polyline points="44.30,531.30 62.57,530.10 80.84,528.70 99.11,527.10 117.38,525.70 135.65,524.60 153.92,523.10 172.19,521.60 190.46,520.20 208.73,518.90" fill="none" stroke="#2a958c" stroke-width="1.2" stroke-linejoin="round" />
<circle cx="44.30" cy="531.30" r="2.4" fill="#13877e" />
<circle cx="62.57" cy="530.10" r="2.4" fill="#13877e" />
<circle cx="80.84" cy="528.70" r="2.4" fill="#13877e" />
<circle cx="99.11" cy="527.10" r="2.4" fill="#13877e" />
<circle cx="117.38" cy="525.70" r="2.4" fill="#13877e" />
<circle cx="135.65" cy="524.60" r="2.4" fill="#13877e" />
<circle cx="153.92" cy="523.10" r="2.4" fill="#13877e" />
<circle cx="172.19" cy="521.60" r="2.4" fill="#13877e" />
<circle cx="190.46" cy="520.20" r="2.4" fill="#13877e" />
<circle cx="208.73" cy="518.90" r="2.4" fill="#13877e" />
<line x1="45.20" y1="407.50" x2="66.20" y2="407.50" stroke="#eb9f52" stroke-width="1" />
<rect x="53.70" y="405.50" width="4.00" height="4.00" fill="#e8943a" stroke="none" stroke-width="1" />
<text x="71.80" y="410.54" font-size="8.5" text-anchor="start" fill="#111" font-weight="normal" font-style="normal"  stroke="#111" stroke-width="0.1">LCP</text>
<line x1="45.20" y1="418.60" x2="66.20" y2="418.60" stroke="#2a958c" stroke-width="1" />
<circle cx="55.70" cy="418.60" r="2.1" fill="#13877e" />
<text x="71.80" y="421.64" font-size="8.5" text-anchor="start" fill="#111" font-weight="normal" font-style="normal"  stroke="#111" stroke-width="0.1">RCP</text>
<line x1="45.20" y1="429.30" x2="66.20" y2="429.30" stroke="#b3c0e0" stroke-width="1" />
<polygon points="55.70,426.40 58.60,429.30 55.70,432.20 52.80,429.30" fill="#9cafdc"/>
<text x="71.80" y="432.34" font-size="8.5" text-anchor="start" fill="#111" font-weight="normal" font-style="normal"  stroke="#111" stroke-width="0.1"><tspan font-style="italic">g</tspan><tspan font-size="6.8" dy="2.6">ph</tspan></text>
<line x1="64.30" y1="467.00" x2="88.40" y2="467.00" stroke="#8fa3d4" stroke-width="1.1" />
<polygon points="92.90,467.00 87.90,464.60 87.90,469.40" fill="#8fa3d4"/>
<rect x="40.40" y="399.00" width="172.10" height="138.40" fill="none" stroke="#000" stroke-width="1.4" />
<text x="0" y="0" transform="translate(13.20,467.80) rotate(-90)" font-size="10.5" text-anchor="middle" fill="#111" stroke="#111" stroke-width="0.22"><tspan font-style="italic">R</tspan> (× 10<tspan font-size="7.5" dy="-4">4</tspan><tspan dy="4"> A W</tspan><tspan font-size="7.5" dy="-4"> −1</tspan><tspan dy="4">)</tspan></text>
<text x="124.50" y="569.00" font-size="10.5" text-anchor="middle" fill="#111" font-weight="normal" font-style="normal"  stroke="#111" stroke-width="0.22"><tspan font-style="italic">N</tspan><tspan font-size="7.5" dy="2.5">t</tspan><tspan dy="-2.5"> (×10</tspan><tspan font-size="7.5" dy="-4">17</tspan><tspan dy="4"> cm</tspan><tspan font-size="7.5" dy="-4">−3</tspan><tspan dy="4">)</tspan></text>
<text x="0" y="0" transform="translate(244.00,469.00) rotate(-90)" font-size="10.5" text-anchor="middle" fill="#111" stroke="#111" stroke-width="0.22"><tspan font-style="italic">g</tspan><tspan font-size="7.5" dy="2">ph</tspan></text>
</svg></body></html>
